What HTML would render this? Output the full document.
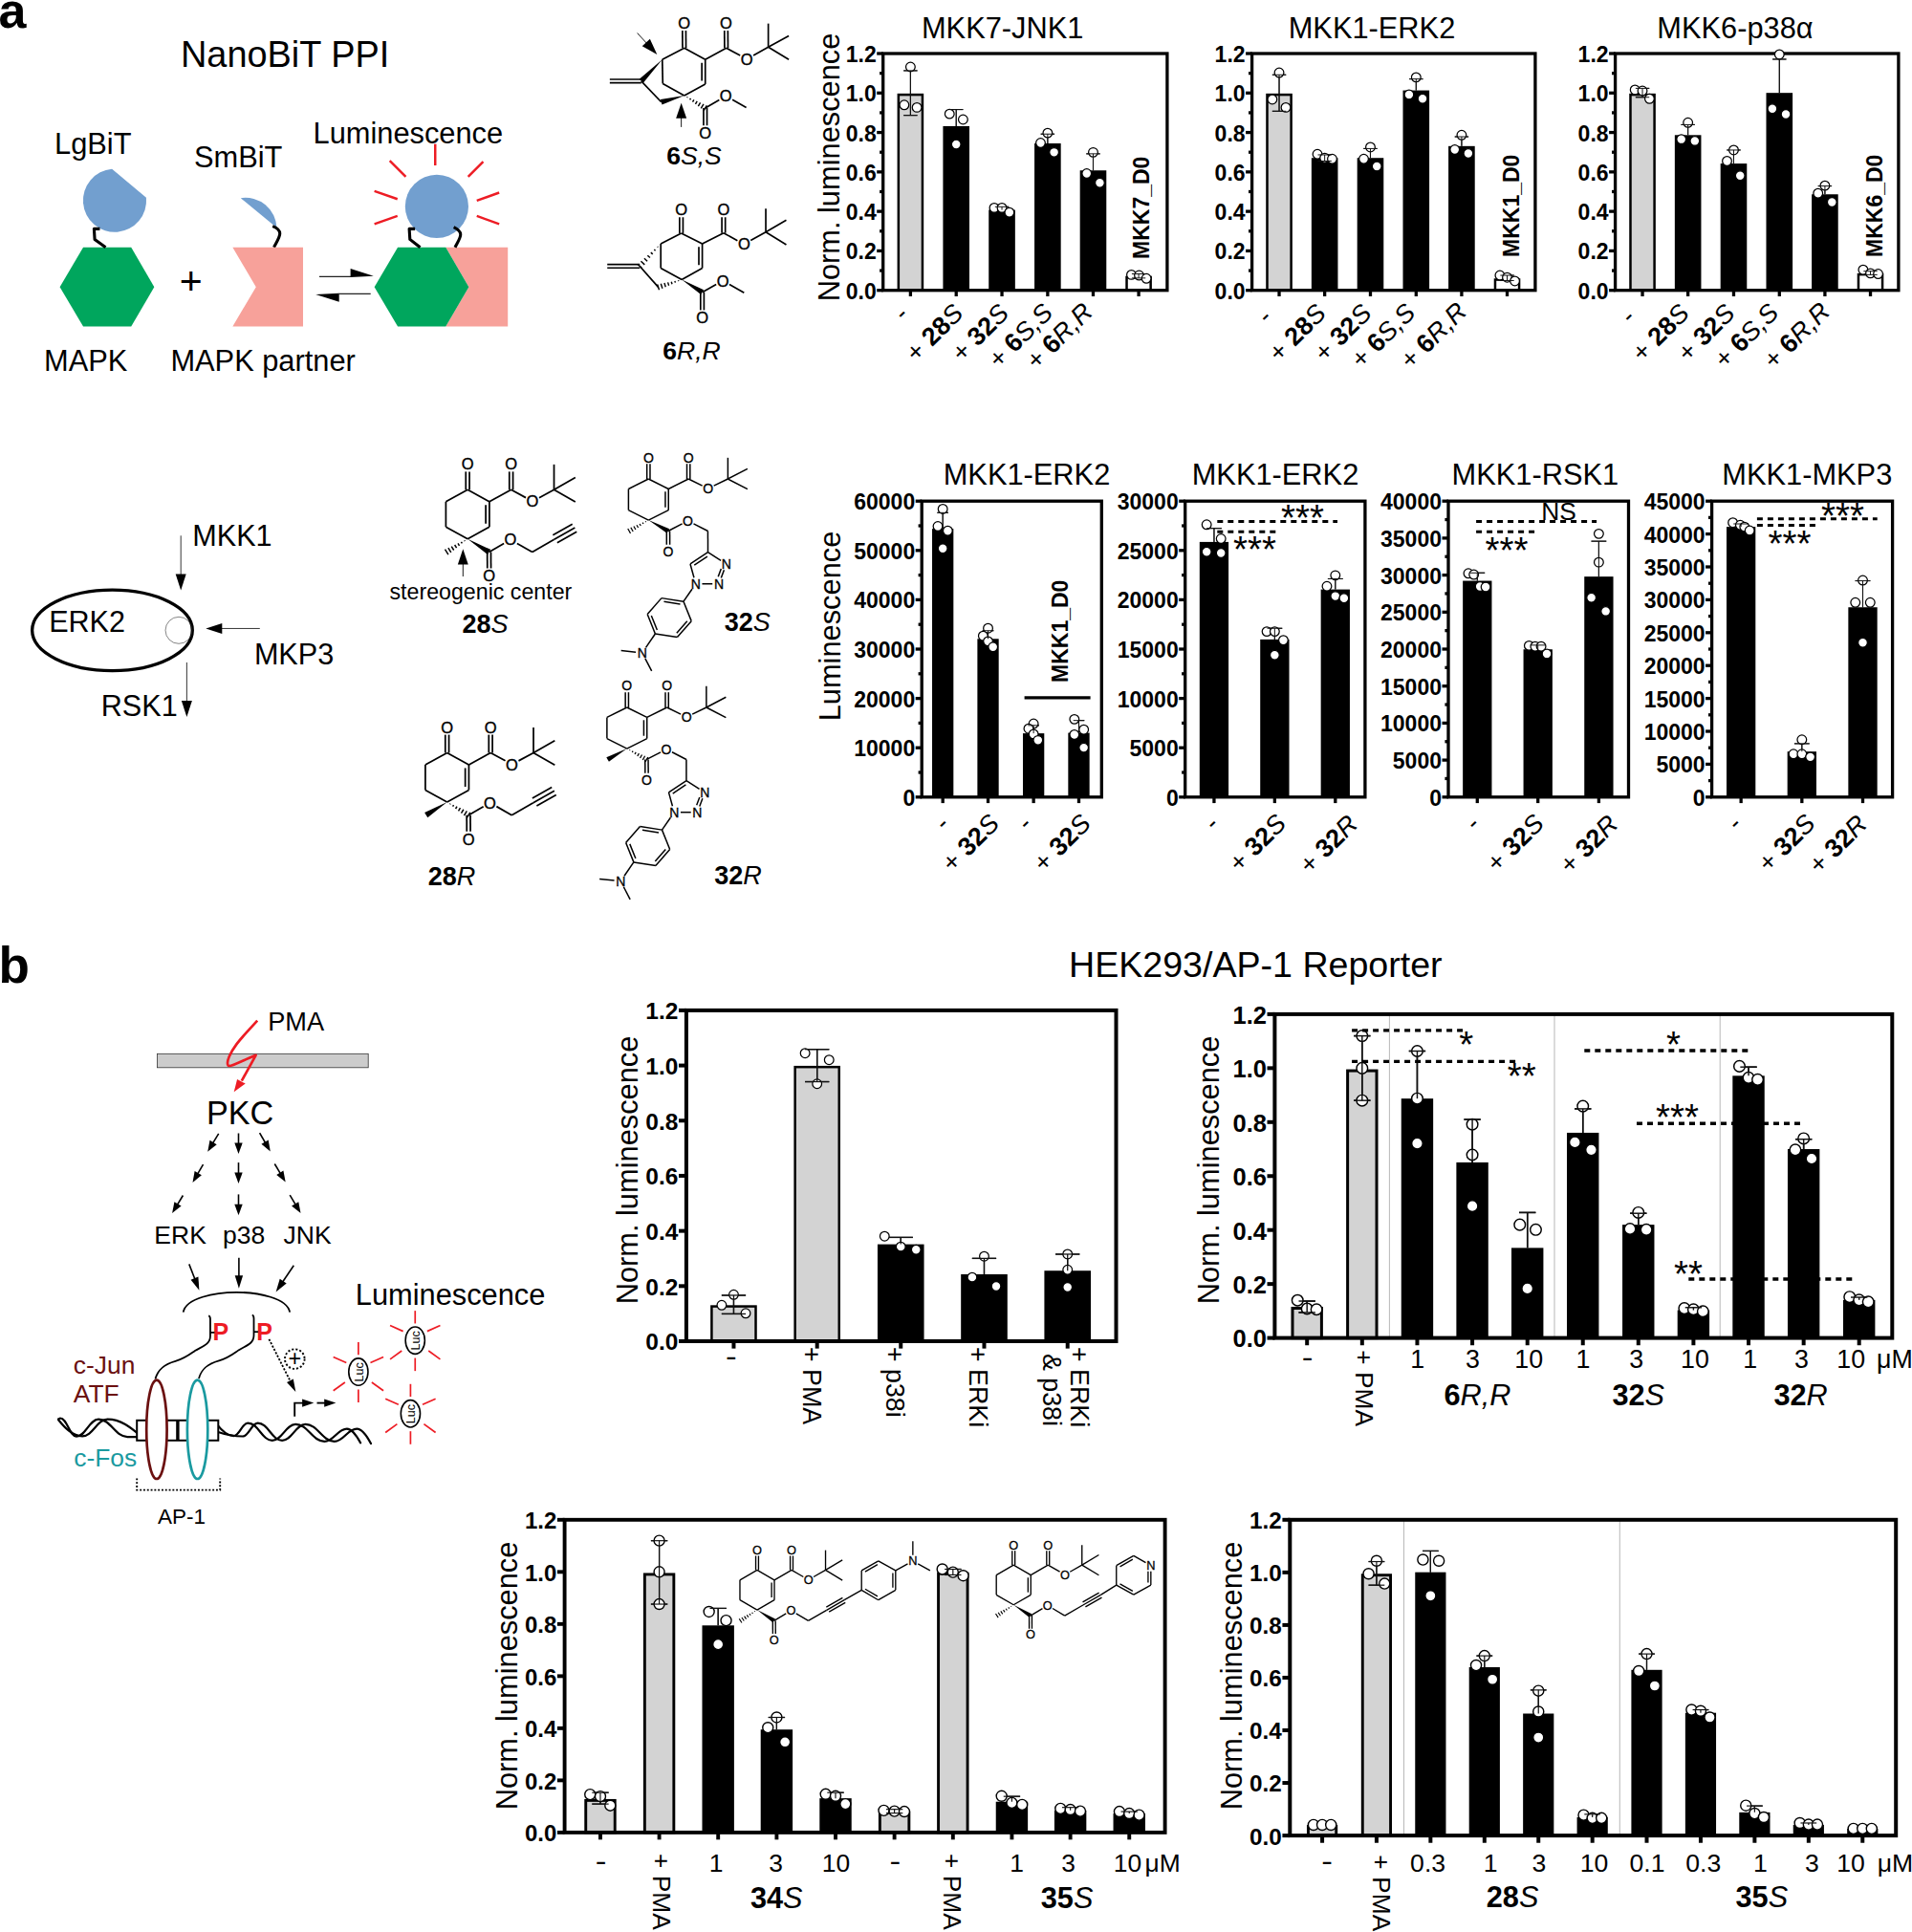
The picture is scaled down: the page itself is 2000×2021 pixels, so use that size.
<!DOCTYPE html>
<html lang="en"><head><meta charset="utf-8"><title>Figure</title>
<style>
html,body{margin:0;padding:0;background:#fff;}
svg{display:block;font-family:"Liberation Sans",sans-serif;}
</style></head><body>
<svg width="2000" height="2021" viewBox="0 0 2000 2021">
<rect width="2000" height="2021" fill="#fff"/>
<text x="-1.5" y="28.5" font-size="52" font-weight="bold">a</text>
<text x="189" y="70.3" font-size="37.9">NanoBiT PPI</text>
<text x="57" y="160.7" font-size="30.8">LgBiT</text>
<text x="203" y="174.7" font-size="30.8">SmBiT</text>
<text x="327.5" y="150" font-size="30.8">Luminescence</text>
<text x="46" y="388.3" font-size="30.8">MAPK</text>
<text x="178.4" y="388.3" font-size="30.8">MAPK partner</text>
<text x="199.8" y="307.8" font-size="41" text-anchor="middle">+</text>
<polygon points="62.59,300.25 87.03,258.74 137.24,258.74 161.34,300.25 137.24,341.42 87.03,341.42" fill="#00a65d"/>
<path d="M152.97 206.86 A33.1 33.1 0 1 1 117.15 176.74 Z" fill="#729fcf" stroke="none" stroke-width="0"/>
<path d="M104.44 239.33 L98.41 239.33 L99.08 250.38 L110.46 258.74" fill="none" stroke="#000" stroke-width="3.1" stroke-linejoin="round"/>
<path d="M251.8 207.2 A32.8 32.8 0 0 1 289.5 238.3 Z" fill="#729fcf" stroke="none" stroke-width="0"/>
<path d="M285.19 236.65 C297.91 241.67 291.88 248.37 286.53 258.74" fill="none" stroke="#000" stroke-width="3.1"/>
<polygon points="243.35,258.74 316.99,258.74 316.99,341.42 243.35,341.42 267.78,300.25" fill="#f7a19a"/>
<line x1="334" y1="289.3" x2="367" y2="289.3" stroke="#222" stroke-width="1.2"/>
<polygon points="366.6,280.9 390.8,288.8 366.6,289.9" fill="#000"/>
<line x1="387.7" y1="307.4" x2="354.4" y2="307.4" stroke="#222" stroke-width="1.2"/>
<polygon points="354.7,315.8 330.2,308.1 354.7,306.8" fill="#000"/>
<polygon points="466.28,258.74 531.21,258.74 531.21,341.42 466.28,341.42 490.38,300.25" fill="#f7a19a"/>
<polygon points="391.63,300.25 416.07,258.74 466.28,258.74 490.38,300.25 466.28,341.42 416.07,341.42" fill="#00a65d"/>
<circle cx="456.9" cy="215.9" r="33.1" fill="#729fcf"/>
<path d="M434.14 239.33 L428.12 239.33 L428.79 250.38 L439.5 258.74" fill="none" stroke="#000" stroke-width="3.1" stroke-linejoin="round"/>
<path d="M474.64 237.66 C487.03 243.68 480.33 249.37 475.98 258.74" fill="none" stroke="#000" stroke-width="3.1"/>
<line x1="455.23" y1="150.63" x2="455.23" y2="173.05" stroke="#ed1c24" stroke-width="2.5"/>
<line x1="407.7" y1="168.03" x2="424.44" y2="184.77" stroke="#ed1c24" stroke-width="2.5"/>
<line x1="505.44" y1="169.04" x2="489.71" y2="184.77" stroke="#ed1c24" stroke-width="2.5"/>
<line x1="391.63" y1="199.83" x2="415.73" y2="208.2" stroke="#ed1c24" stroke-width="2.5"/>
<line x1="522.18" y1="201.51" x2="498.74" y2="209.87" stroke="#ed1c24" stroke-width="2.5"/>
<line x1="391.63" y1="234.31" x2="415.73" y2="225.94" stroke="#ed1c24" stroke-width="2.5"/>
<line x1="522.18" y1="234.31" x2="498.74" y2="225.94" stroke="#ed1c24" stroke-width="2.5"/>
<line x1="717.57" y1="50.26" x2="717.43" y2="32.03" stroke="#000" stroke-width="1.7"/>
<line x1="713.97" y1="50.29" x2="713.83" y2="32.06" stroke="#000" stroke-width="1.7"/>
<line x1="715.77" y1="50.27" x2="692.76" y2="62.3" stroke="#000" stroke-width="1.7"/>
<line x1="715.77" y1="50.27" x2="737.74" y2="62.3" stroke="#000" stroke-width="1.7"/>
<line x1="737.74" y1="62.3" x2="737.74" y2="87.93" stroke="#000" stroke-width="1.7"/>
<line x1="734.14" y1="65.63" x2="734.14" y2="84.6" stroke="#000" stroke-width="1.7"/>
<line x1="737.74" y1="87.93" x2="715.77" y2="99.96" stroke="#000" stroke-width="1.7"/>
<line x1="715.77" y1="99.96" x2="693.28" y2="87.41" stroke="#000" stroke-width="1.7"/>
<line x1="693.28" y1="87.41" x2="692.76" y2="62.3" stroke="#000" stroke-width="1.7"/>
<line x1="670.79" y1="82.99" x2="637.85" y2="82.99" stroke="#000" stroke-width="1.7"/>
<line x1="670.79" y1="86.59" x2="637.85" y2="86.59" stroke="#000" stroke-width="1.7"/>
<line x1="670.79" y1="84.79" x2="691.72" y2="106.76" stroke="#000" stroke-width="1.7"/>
<line x1="737.74" y1="62.3" x2="759.71" y2="50.27" stroke="#000" stroke-width="1.7"/>
<line x1="761.51" y1="50.26" x2="761.36" y2="32.03" stroke="#000" stroke-width="1.7"/>
<line x1="757.91" y1="50.29" x2="757.76" y2="32.06" stroke="#000" stroke-width="1.7"/>
<line x1="759.71" y1="50.27" x2="774.17" y2="58.03" stroke="#000" stroke-width="1.7"/>
<line x1="788.07" y1="57.92" x2="803.64" y2="49.23" stroke="#000" stroke-width="1.7"/>
<line x1="803.64" y1="49.23" x2="803.64" y2="24.64" stroke="#000" stroke-width="1.7"/>
<line x1="803.64" y1="49.23" x2="825.08" y2="37.41" stroke="#000" stroke-width="1.7"/>
<line x1="803.64" y1="49.23" x2="825.08" y2="62.3" stroke="#000" stroke-width="1.7"/>
<line x1="735.94" y1="113.03" x2="735.94" y2="131.26" stroke="#000" stroke-width="1.7"/>
<line x1="739.54" y1="113.03" x2="739.54" y2="131.26" stroke="#000" stroke-width="1.7"/>
<line x1="737.74" y1="113.03" x2="752.35" y2="104.48" stroke="#000" stroke-width="1.7"/>
<line x1="766.09" y1="104.36" x2="780.63" y2="112.51" stroke="#000" stroke-width="1.7"/>
<polygon points="692.76,62.3 668.73,82.78 672.86,86.8" fill="#000"/>
<polygon points="715.77,99.96 690.93,103.99 692.5,109.53" fill="#000"/>
<line x1="718.69" y1="102.2" x2="719.14" y2="101.45" stroke="#000" stroke-width="1.44"/>
<line x1="721.6" y1="104.45" x2="722.5" y2="102.94" stroke="#000" stroke-width="1.44"/>
<line x1="724.52" y1="106.69" x2="725.86" y2="104.43" stroke="#000" stroke-width="1.44"/>
<line x1="727.43" y1="108.93" x2="729.22" y2="105.93" stroke="#000" stroke-width="1.44"/>
<line x1="730.35" y1="111.18" x2="732.58" y2="107.42" stroke="#000" stroke-width="1.44"/>
<line x1="733.26" y1="113.42" x2="735.94" y2="108.91" stroke="#000" stroke-width="1.44"/>
<line x1="736.18" y1="115.66" x2="739.31" y2="110.4" stroke="#000" stroke-width="1.44"/>
<text x="715.56" y="30.06" font-size="16.5" text-anchor="middle" stroke="#000" stroke-width="0.36">O</text>
<text x="759.5" y="30.06" font-size="16.5" text-anchor="middle" stroke="#000" stroke-width="0.36">O</text>
<text x="781.15" y="67.72" font-size="16.5" text-anchor="middle" stroke="#000" stroke-width="0.36">O</text>
<text x="737.74" y="145.12" font-size="16.5" text-anchor="middle" stroke="#000" stroke-width="0.36">O</text>
<text x="759.18" y="106.42" font-size="16.5" text-anchor="middle" stroke="#000" stroke-width="0.36">O</text>
<line x1="666.61" y1="34.58" x2="676.48" y2="45.3" stroke="#000" stroke-width="0.9"/>
<polygon points="687.32,57.07 671.76,48.29 679.85,40.84" fill="#000"/>
<line x1="712.64" y1="132.91" x2="712.64" y2="122.8" stroke="#000" stroke-width="0.9"/>
<polygon points="712.64,107.8 718.14,123.8 707.14,123.8" fill="#000"/>
<text x="726" y="171.5" font-size="26.5" text-anchor="middle"><tspan font-weight="bold">6</tspan><tspan font-style="italic">S,S</tspan></text>
<line x1="714.44" y1="243.93" x2="714.44" y2="227.27" stroke="#000" stroke-width="1.7"/>
<line x1="710.84" y1="243.93" x2="710.84" y2="227.27" stroke="#000" stroke-width="1.7"/>
<line x1="712.64" y1="243.93" x2="691.19" y2="254.92" stroke="#000" stroke-width="1.7"/>
<line x1="712.64" y1="243.93" x2="734.6" y2="254.92" stroke="#000" stroke-width="1.7"/>
<line x1="734.6" y1="254.92" x2="734.6" y2="280.54" stroke="#000" stroke-width="1.7"/>
<line x1="731" y1="258.25" x2="731" y2="277.21" stroke="#000" stroke-width="1.7"/>
<line x1="734.6" y1="280.54" x2="713.16" y2="292.57" stroke="#000" stroke-width="1.7"/>
<line x1="713.16" y1="292.57" x2="691.19" y2="280.54" stroke="#000" stroke-width="1.7"/>
<line x1="691.19" y1="280.54" x2="691.19" y2="254.92" stroke="#000" stroke-width="1.7"/>
<line x1="669.23" y1="276.65" x2="635.23" y2="276.65" stroke="#000" stroke-width="1.7"/>
<line x1="669.23" y1="280.25" x2="635.23" y2="280.25" stroke="#000" stroke-width="1.7"/>
<line x1="669.23" y1="278.45" x2="688.58" y2="300.42" stroke="#000" stroke-width="1.7"/>
<line x1="734.6" y1="254.92" x2="756.88" y2="243.72" stroke="#000" stroke-width="1.7"/>
<line x1="758.68" y1="243.72" x2="758.68" y2="227.27" stroke="#000" stroke-width="1.7"/>
<line x1="755.08" y1="243.72" x2="755.08" y2="227.27" stroke="#000" stroke-width="1.7"/>
<line x1="756.88" y1="243.72" x2="771.38" y2="251.64" stroke="#000" stroke-width="1.7"/>
<line x1="785.23" y1="251.56" x2="801.03" y2="242.68" stroke="#000" stroke-width="1.7"/>
<line x1="801.03" y1="242.68" x2="801.03" y2="218.31" stroke="#000" stroke-width="1.7"/>
<line x1="801.03" y1="242.68" x2="822.47" y2="230.33" stroke="#000" stroke-width="1.7"/>
<line x1="801.03" y1="242.68" x2="822.47" y2="255.96" stroke="#000" stroke-width="1.7"/>
<line x1="732.8" y1="305.65" x2="732.8" y2="324.4" stroke="#000" stroke-width="1.7"/>
<line x1="736.4" y1="305.65" x2="736.4" y2="324.4" stroke="#000" stroke-width="1.7"/>
<line x1="734.6" y1="305.65" x2="749.14" y2="297.49" stroke="#000" stroke-width="1.7"/>
<line x1="762.95" y1="297.51" x2="778.33" y2="306.17" stroke="#000" stroke-width="1.7"/>
<line x1="687.73" y1="257.98" x2="688.37" y2="258.58" stroke="#000" stroke-width="1.44"/>
<line x1="684.28" y1="261.04" x2="685.56" y2="262.24" stroke="#000" stroke-width="1.44"/>
<line x1="680.82" y1="264.11" x2="682.74" y2="265.9" stroke="#000" stroke-width="1.44"/>
<line x1="677.36" y1="267.17" x2="679.92" y2="269.56" stroke="#000" stroke-width="1.44"/>
<line x1="673.9" y1="270.24" x2="677.1" y2="273.22" stroke="#000" stroke-width="1.44"/>
<line x1="670.45" y1="273.3" x2="674.28" y2="276.88" stroke="#000" stroke-width="1.44"/>
<line x1="666.99" y1="276.36" x2="671.46" y2="280.54" stroke="#000" stroke-width="1.44"/>
<line x1="709.51" y1="293.28" x2="709.78" y2="294.11" stroke="#000" stroke-width="1.44"/>
<line x1="705.87" y1="293.98" x2="706.4" y2="295.65" stroke="#000" stroke-width="1.44"/>
<line x1="702.23" y1="294.69" x2="703.02" y2="297.18" stroke="#000" stroke-width="1.44"/>
<line x1="698.58" y1="295.39" x2="699.64" y2="298.72" stroke="#000" stroke-width="1.44"/>
<line x1="694.94" y1="296.09" x2="696.27" y2="300.26" stroke="#000" stroke-width="1.44"/>
<line x1="691.29" y1="296.8" x2="692.89" y2="301.8" stroke="#000" stroke-width="1.44"/>
<line x1="687.65" y1="297.5" x2="689.51" y2="303.33" stroke="#000" stroke-width="1.44"/>
<polygon points="713.16,292.57 733.1,308.11 736.1,303.19" fill="#000"/>
<text x="712.64" y="225.29" font-size="16.5" text-anchor="middle" stroke="#000" stroke-width="0.36">O</text>
<text x="756.88" y="225.29" font-size="16.5" text-anchor="middle" stroke="#000" stroke-width="0.36">O</text>
<text x="778.33" y="261.38" font-size="16.5" text-anchor="middle" stroke="#000" stroke-width="0.36">O</text>
<text x="734.6" y="338.26" font-size="16.5" text-anchor="middle" stroke="#000" stroke-width="0.36">O</text>
<text x="756.05" y="299.56" font-size="16.5" text-anchor="middle" stroke="#000" stroke-width="0.36">O</text>
<text x="723.5" y="375.5" font-size="26.5" text-anchor="middle"><tspan font-weight="bold">6</tspan><tspan font-style="italic">R,R</tspan></text>
<rect x="939.84" y="99.08" width="25.1" height="204.62" fill="#d3d3d3" stroke="#000" stroke-width="2.5"/>
<rect x="986.42" y="131.96" width="27.6" height="171.74" fill="#000"/>
<rect x="1034.24" y="219.57" width="27.6" height="84.13" fill="#000"/>
<rect x="1082.07" y="150" width="27.6" height="153.7" fill="#000"/>
<rect x="1129.68" y="178.26" width="27.6" height="125.44" fill="#000"/>
<rect x="1178.54" y="289.95" width="25.1" height="13.75" fill="#fff" stroke="#000" stroke-width="2.5"/>
<rect x="923.7" y="56" width="297.2" height="247.7" fill="none" stroke="#000" stroke-width="3.3"/>
<line x1="917.2" y1="303.7" x2="923.7" y2="303.7" stroke="#000" stroke-width="3.3"/>
<text x="916.7" y="312.63" font-size="23" font-weight="bold" text-anchor="end">0.0</text>
<line x1="920.1" y1="283.06" x2="923.7" y2="283.06" stroke="#000" stroke-width="3.3"/>
<line x1="917.2" y1="262.42" x2="923.7" y2="262.42" stroke="#000" stroke-width="3.3"/>
<text x="916.7" y="271.35" font-size="23" font-weight="bold" text-anchor="end">0.2</text>
<line x1="920.1" y1="241.77" x2="923.7" y2="241.77" stroke="#000" stroke-width="3.3"/>
<line x1="917.2" y1="221.13" x2="923.7" y2="221.13" stroke="#000" stroke-width="3.3"/>
<text x="916.7" y="230.07" font-size="23" font-weight="bold" text-anchor="end">0.4</text>
<line x1="920.1" y1="200.49" x2="923.7" y2="200.49" stroke="#000" stroke-width="3.3"/>
<line x1="917.2" y1="179.85" x2="923.7" y2="179.85" stroke="#000" stroke-width="3.3"/>
<text x="916.7" y="188.78" font-size="23" font-weight="bold" text-anchor="end">0.6</text>
<line x1="920.1" y1="159.21" x2="923.7" y2="159.21" stroke="#000" stroke-width="3.3"/>
<line x1="917.2" y1="138.57" x2="923.7" y2="138.57" stroke="#000" stroke-width="3.3"/>
<text x="916.7" y="147.5" font-size="23" font-weight="bold" text-anchor="end">0.8</text>
<line x1="920.1" y1="117.92" x2="923.7" y2="117.92" stroke="#000" stroke-width="3.3"/>
<line x1="917.2" y1="97.28" x2="923.7" y2="97.28" stroke="#000" stroke-width="3.3"/>
<text x="916.7" y="106.22" font-size="23" font-weight="bold" text-anchor="end">1.0</text>
<line x1="920.1" y1="76.64" x2="923.7" y2="76.64" stroke="#000" stroke-width="3.3"/>
<line x1="917.2" y1="56" x2="923.7" y2="56" stroke="#000" stroke-width="3.3"/>
<text x="916.7" y="64.93" font-size="23" font-weight="bold" text-anchor="end">1.2</text>
<line x1="952.39" y1="303.7" x2="952.39" y2="310" stroke="#000" stroke-width="3.3"/>
<line x1="952.39" y1="73.91" x2="952.39" y2="120.65" stroke="#111" stroke-width="1.1"/>
<line x1="945.22" y1="73.91" x2="959.57" y2="73.91" stroke="#111" stroke-width="1.1"/>
<line x1="945.22" y1="120.65" x2="959.57" y2="120.65" stroke="#111" stroke-width="1.1"/>
<circle cx="952.39" cy="70" r="4.85" fill="#fff" stroke="#000" stroke-width="1.25"/>
<circle cx="945.87" cy="109.78" r="4.85" fill="#fff" stroke="#000" stroke-width="1.25"/>
<circle cx="959.13" cy="112.39" r="4.85" fill="#fff" stroke="#000" stroke-width="1.25"/>
<line x1="945.22" y1="73.91" x2="959.57" y2="73.91" stroke="#111" stroke-width="0.99"/>
<line x1="952.39" y1="73.91" x2="952.39" y2="120.65" stroke="#111" stroke-width="0.99"/>
<line x1="945.22" y1="120.65" x2="959.57" y2="120.65" stroke="#111" stroke-width="0.99"/>
<line x1="1000.22" y1="303.7" x2="1000.22" y2="310" stroke="#000" stroke-width="3.3"/>
<line x1="1000.22" y1="114.57" x2="1000.22" y2="131.96" stroke="#111" stroke-width="1.1"/>
<line x1="993.04" y1="114.57" x2="1007.39" y2="114.57" stroke="#111" stroke-width="1.1"/>
<circle cx="993.26" cy="119.13" r="4.85" fill="#fff" stroke="#000" stroke-width="1.25"/>
<circle cx="1007.39" cy="125" r="4.85" fill="#fff" stroke="#000" stroke-width="1.25"/>
<circle cx="1000.22" cy="151.09" r="4.85" fill="#fff" stroke="#000" stroke-width="1.25"/>
<line x1="993.04" y1="114.57" x2="1007.39" y2="114.57" stroke="#111" stroke-width="0.99"/>
<line x1="1000.22" y1="114.57" x2="1000.22" y2="131.96" stroke="#111" stroke-width="0.99"/>
<line x1="1048.04" y1="303.7" x2="1048.04" y2="310" stroke="#000" stroke-width="3.3"/>
<line x1="1048.04" y1="216.3" x2="1048.04" y2="219.57" stroke="#111" stroke-width="1.1"/>
<line x1="1040.87" y1="216.3" x2="1055.22" y2="216.3" stroke="#111" stroke-width="1.1"/>
<circle cx="1040" cy="217.39" r="4.85" fill="#fff" stroke="#000" stroke-width="1.25"/>
<circle cx="1048.04" cy="217.39" r="4.85" fill="#fff" stroke="#000" stroke-width="1.25"/>
<circle cx="1055.87" cy="222.17" r="4.85" fill="#fff" stroke="#000" stroke-width="1.25"/>
<line x1="1040.87" y1="216.3" x2="1055.22" y2="216.3" stroke="#111" stroke-width="0.99"/>
<line x1="1048.04" y1="216.3" x2="1048.04" y2="219.57" stroke="#111" stroke-width="0.99"/>
<line x1="1095.87" y1="303.7" x2="1095.87" y2="310" stroke="#000" stroke-width="3.3"/>
<line x1="1095.87" y1="140.22" x2="1095.87" y2="150" stroke="#111" stroke-width="1.1"/>
<line x1="1088.69" y1="140.22" x2="1103.05" y2="140.22" stroke="#111" stroke-width="1.1"/>
<circle cx="1095.87" cy="139.13" r="4.85" fill="#fff" stroke="#000" stroke-width="1.25"/>
<circle cx="1088.48" cy="149.57" r="4.85" fill="#fff" stroke="#000" stroke-width="1.25"/>
<circle cx="1102.61" cy="159.35" r="4.85" fill="#fff" stroke="#000" stroke-width="1.25"/>
<line x1="1088.69" y1="140.22" x2="1103.05" y2="140.22" stroke="#111" stroke-width="0.99"/>
<line x1="1095.87" y1="140.22" x2="1095.87" y2="150" stroke="#111" stroke-width="0.99"/>
<line x1="1143.48" y1="303.7" x2="1143.48" y2="310" stroke="#000" stroke-width="3.3"/>
<line x1="1143.48" y1="160.87" x2="1143.48" y2="178.26" stroke="#111" stroke-width="1.1"/>
<line x1="1136.3" y1="160.87" x2="1150.65" y2="160.87" stroke="#111" stroke-width="1.1"/>
<circle cx="1143.48" cy="159.35" r="4.85" fill="#fff" stroke="#000" stroke-width="1.25"/>
<circle cx="1136.74" cy="181.52" r="4.85" fill="#fff" stroke="#000" stroke-width="1.25"/>
<circle cx="1150.43" cy="191.3" r="4.85" fill="#fff" stroke="#000" stroke-width="1.25"/>
<line x1="1136.3" y1="160.87" x2="1150.65" y2="160.87" stroke="#111" stroke-width="0.99"/>
<line x1="1143.48" y1="160.87" x2="1143.48" y2="178.26" stroke="#111" stroke-width="0.99"/>
<line x1="1191.09" y1="303.7" x2="1191.09" y2="310" stroke="#000" stroke-width="3.3"/>
<line x1="1191.09" y1="286.52" x2="1191.09" y2="290.87" stroke="#111" stroke-width="1.1"/>
<line x1="1183.91" y1="286.52" x2="1198.26" y2="286.52" stroke="#111" stroke-width="1.1"/>
<line x1="1183.91" y1="290.87" x2="1198.26" y2="290.87" stroke="#111" stroke-width="1.1"/>
<circle cx="1183.48" cy="287.39" r="4.85" fill="#fff" stroke="#000" stroke-width="1.25"/>
<circle cx="1191.52" cy="288.04" r="4.85" fill="#fff" stroke="#000" stroke-width="1.25"/>
<circle cx="1199.13" cy="291.3" r="4.85" fill="#fff" stroke="#000" stroke-width="1.25"/>
<line x1="1183.91" y1="286.52" x2="1198.26" y2="286.52" stroke="#111" stroke-width="0.99"/>
<line x1="1191.09" y1="286.52" x2="1191.09" y2="290.87" stroke="#111" stroke-width="0.99"/>
<line x1="1183.91" y1="290.87" x2="1198.26" y2="290.87" stroke="#111" stroke-width="0.99"/>
<text x="1048.7" y="40.2" font-size="30.8" text-anchor="middle">MKK7-JNK1</text>
<text x="878" y="175" font-size="30.8" text-anchor="middle" transform="rotate(-90 878 175)">Norm. luminescence</text>
<text x="951.99" y="330.7" font-size="27" text-anchor="end" transform="rotate(-45 951.99 330.7)">-</text>
<text x="1009.02" y="329.3" font-size="27" text-anchor="end" transform="rotate(-45 1009.02 329.3)">+ <tspan font-weight="bold">28</tspan><tspan font-style="italic">S</tspan></text>
<text x="1056.84" y="329.3" font-size="27" text-anchor="end" transform="rotate(-45 1056.84 329.3)">+ <tspan font-weight="bold">32</tspan><tspan font-style="italic">S</tspan></text>
<text x="1102.77" y="328.7" font-size="27" text-anchor="end" transform="rotate(-45 1102.77 328.7)">+ <tspan font-weight="bold">6</tspan><tspan font-style="italic">S,S</tspan></text>
<text x="1144.48" y="327.9" font-size="27" text-anchor="end" transform="rotate(-45 1144.48 327.9)">+ <tspan font-weight="bold">6</tspan><tspan font-style="italic">R,R</tspan></text>
<text x="1201.5" y="271" font-size="23" font-weight="bold" transform="rotate(-90 1201.5 271)">MKK7_D0</text>
<rect x="1325.49" y="99.08" width="25.1" height="204.62" fill="#d3d3d3" stroke="#000" stroke-width="2.5"/>
<rect x="1371.85" y="165.22" width="27.6" height="138.48" fill="#000"/>
<rect x="1419.68" y="165.22" width="27.6" height="138.48" fill="#000"/>
<rect x="1467.5" y="94.57" width="27.6" height="209.13" fill="#000"/>
<rect x="1515.11" y="152.83" width="27.6" height="150.87" fill="#000"/>
<rect x="1563.97" y="292.55" width="25.1" height="11.15" fill="#fff" stroke="#000" stroke-width="2.5"/>
<rect x="1309.6" y="56" width="296.3" height="247.7" fill="none" stroke="#000" stroke-width="3.3"/>
<line x1="1303.1" y1="303.7" x2="1309.6" y2="303.7" stroke="#000" stroke-width="3.3"/>
<text x="1302.6" y="312.63" font-size="23" font-weight="bold" text-anchor="end">0.0</text>
<line x1="1306" y1="283.06" x2="1309.6" y2="283.06" stroke="#000" stroke-width="3.3"/>
<line x1="1303.1" y1="262.42" x2="1309.6" y2="262.42" stroke="#000" stroke-width="3.3"/>
<text x="1302.6" y="271.35" font-size="23" font-weight="bold" text-anchor="end">0.2</text>
<line x1="1306" y1="241.77" x2="1309.6" y2="241.77" stroke="#000" stroke-width="3.3"/>
<line x1="1303.1" y1="221.13" x2="1309.6" y2="221.13" stroke="#000" stroke-width="3.3"/>
<text x="1302.6" y="230.07" font-size="23" font-weight="bold" text-anchor="end">0.4</text>
<line x1="1306" y1="200.49" x2="1309.6" y2="200.49" stroke="#000" stroke-width="3.3"/>
<line x1="1303.1" y1="179.85" x2="1309.6" y2="179.85" stroke="#000" stroke-width="3.3"/>
<text x="1302.6" y="188.78" font-size="23" font-weight="bold" text-anchor="end">0.6</text>
<line x1="1306" y1="159.21" x2="1309.6" y2="159.21" stroke="#000" stroke-width="3.3"/>
<line x1="1303.1" y1="138.57" x2="1309.6" y2="138.57" stroke="#000" stroke-width="3.3"/>
<text x="1302.6" y="147.5" font-size="23" font-weight="bold" text-anchor="end">0.8</text>
<line x1="1306" y1="117.92" x2="1309.6" y2="117.92" stroke="#000" stroke-width="3.3"/>
<line x1="1303.1" y1="97.28" x2="1309.6" y2="97.28" stroke="#000" stroke-width="3.3"/>
<text x="1302.6" y="106.22" font-size="23" font-weight="bold" text-anchor="end">1.0</text>
<line x1="1306" y1="76.64" x2="1309.6" y2="76.64" stroke="#000" stroke-width="3.3"/>
<line x1="1303.1" y1="56" x2="1309.6" y2="56" stroke="#000" stroke-width="3.3"/>
<text x="1302.6" y="64.93" font-size="23" font-weight="bold" text-anchor="end">1.2</text>
<line x1="1338.04" y1="303.7" x2="1338.04" y2="310" stroke="#000" stroke-width="3.3"/>
<line x1="1338.04" y1="78.26" x2="1338.04" y2="116.3" stroke="#111" stroke-width="1.1"/>
<line x1="1330.87" y1="78.26" x2="1345.22" y2="78.26" stroke="#111" stroke-width="1.1"/>
<line x1="1330.87" y1="116.3" x2="1345.22" y2="116.3" stroke="#111" stroke-width="1.1"/>
<circle cx="1338.04" cy="76.09" r="4.85" fill="#fff" stroke="#000" stroke-width="1.25"/>
<circle cx="1330.87" cy="103.91" r="4.85" fill="#fff" stroke="#000" stroke-width="1.25"/>
<circle cx="1345" cy="112.39" r="4.85" fill="#fff" stroke="#000" stroke-width="1.25"/>
<line x1="1330.87" y1="78.26" x2="1345.22" y2="78.26" stroke="#111" stroke-width="0.99"/>
<line x1="1338.04" y1="78.26" x2="1338.04" y2="116.3" stroke="#111" stroke-width="0.99"/>
<line x1="1330.87" y1="116.3" x2="1345.22" y2="116.3" stroke="#111" stroke-width="0.99"/>
<line x1="1385.65" y1="303.7" x2="1385.65" y2="310" stroke="#000" stroke-width="3.3"/>
<line x1="1385.65" y1="161.96" x2="1385.65" y2="168.48" stroke="#111" stroke-width="1.1"/>
<line x1="1378.48" y1="161.96" x2="1392.83" y2="161.96" stroke="#111" stroke-width="1.1"/>
<line x1="1378.48" y1="168.48" x2="1392.83" y2="168.48" stroke="#111" stroke-width="1.1"/>
<circle cx="1378.04" cy="161.3" r="4.85" fill="#fff" stroke="#000" stroke-width="1.25"/>
<circle cx="1385.65" cy="165.22" r="4.85" fill="#fff" stroke="#000" stroke-width="1.25"/>
<circle cx="1393.48" cy="166.3" r="4.85" fill="#fff" stroke="#000" stroke-width="1.25"/>
<line x1="1378.48" y1="161.96" x2="1392.83" y2="161.96" stroke="#111" stroke-width="0.99"/>
<line x1="1385.65" y1="161.96" x2="1385.65" y2="168.48" stroke="#111" stroke-width="0.99"/>
<line x1="1378.48" y1="168.48" x2="1392.83" y2="168.48" stroke="#111" stroke-width="0.99"/>
<line x1="1433.48" y1="303.7" x2="1433.48" y2="310" stroke="#000" stroke-width="3.3"/>
<line x1="1433.48" y1="155.43" x2="1433.48" y2="165.22" stroke="#111" stroke-width="1.1"/>
<line x1="1426.3" y1="155.43" x2="1440.65" y2="155.43" stroke="#111" stroke-width="1.1"/>
<circle cx="1433.48" cy="153.91" r="4.85" fill="#fff" stroke="#000" stroke-width="1.25"/>
<circle cx="1426.52" cy="166.3" r="4.85" fill="#fff" stroke="#000" stroke-width="1.25"/>
<circle cx="1440.22" cy="173.91" r="4.85" fill="#fff" stroke="#000" stroke-width="1.25"/>
<line x1="1426.3" y1="155.43" x2="1440.65" y2="155.43" stroke="#111" stroke-width="0.99"/>
<line x1="1433.48" y1="155.43" x2="1433.48" y2="165.22" stroke="#111" stroke-width="0.99"/>
<line x1="1481.3" y1="303.7" x2="1481.3" y2="310" stroke="#000" stroke-width="3.3"/>
<line x1="1481.3" y1="82.61" x2="1481.3" y2="94.57" stroke="#111" stroke-width="1.1"/>
<line x1="1474.13" y1="82.61" x2="1488.48" y2="82.61" stroke="#111" stroke-width="1.1"/>
<circle cx="1481.3" cy="80.87" r="4.85" fill="#fff" stroke="#000" stroke-width="1.25"/>
<circle cx="1473.91" cy="98.91" r="4.85" fill="#fff" stroke="#000" stroke-width="1.25"/>
<circle cx="1488.04" cy="103.26" r="4.85" fill="#fff" stroke="#000" stroke-width="1.25"/>
<line x1="1474.13" y1="82.61" x2="1488.48" y2="82.61" stroke="#111" stroke-width="0.99"/>
<line x1="1481.3" y1="82.61" x2="1481.3" y2="94.57" stroke="#111" stroke-width="0.99"/>
<line x1="1528.91" y1="303.7" x2="1528.91" y2="310" stroke="#000" stroke-width="3.3"/>
<line x1="1528.91" y1="143.04" x2="1528.91" y2="152.83" stroke="#111" stroke-width="1.1"/>
<line x1="1521.74" y1="143.04" x2="1536.09" y2="143.04" stroke="#111" stroke-width="1.1"/>
<circle cx="1528.91" cy="141.3" r="4.85" fill="#fff" stroke="#000" stroke-width="1.25"/>
<circle cx="1521.74" cy="156.52" r="4.85" fill="#fff" stroke="#000" stroke-width="1.25"/>
<circle cx="1535.87" cy="160.43" r="4.85" fill="#fff" stroke="#000" stroke-width="1.25"/>
<line x1="1521.74" y1="143.04" x2="1536.09" y2="143.04" stroke="#111" stroke-width="0.99"/>
<line x1="1528.91" y1="143.04" x2="1528.91" y2="152.83" stroke="#111" stroke-width="0.99"/>
<line x1="1576.52" y1="303.7" x2="1576.52" y2="310" stroke="#000" stroke-width="3.3"/>
<line x1="1576.52" y1="288.04" x2="1576.52" y2="293.48" stroke="#111" stroke-width="1.1"/>
<line x1="1569.35" y1="288.04" x2="1583.7" y2="288.04" stroke="#111" stroke-width="1.1"/>
<line x1="1569.35" y1="293.48" x2="1583.7" y2="293.48" stroke="#111" stroke-width="1.1"/>
<circle cx="1568.91" cy="288.04" r="4.85" fill="#fff" stroke="#000" stroke-width="1.25"/>
<circle cx="1576.52" cy="290.22" r="4.85" fill="#fff" stroke="#000" stroke-width="1.25"/>
<circle cx="1584.57" cy="293.91" r="4.85" fill="#fff" stroke="#000" stroke-width="1.25"/>
<line x1="1569.35" y1="288.04" x2="1583.7" y2="288.04" stroke="#111" stroke-width="0.99"/>
<line x1="1576.52" y1="288.04" x2="1576.52" y2="293.48" stroke="#111" stroke-width="0.99"/>
<line x1="1569.35" y1="293.48" x2="1583.7" y2="293.48" stroke="#111" stroke-width="0.99"/>
<text x="1435" y="40.2" font-size="30.8" text-anchor="middle">MKK1-ERK2</text>
<text x="1332.24" y="333.7" font-size="27" text-anchor="end" transform="rotate(-45 1332.24 333.7)">-</text>
<text x="1388.55" y="329.3" font-size="27" text-anchor="end" transform="rotate(-45 1388.55 329.3)">+ <tspan font-weight="bold">28</tspan><tspan font-style="italic">S</tspan></text>
<text x="1436.18" y="329.3" font-size="27" text-anchor="end" transform="rotate(-45 1436.18 329.3)">+ <tspan font-weight="bold">32</tspan><tspan font-style="italic">S</tspan></text>
<text x="1482.1" y="328.7" font-size="27" text-anchor="end" transform="rotate(-45 1482.1 328.7)">+ <tspan font-weight="bold">6</tspan><tspan font-style="italic">S,S</tspan></text>
<text x="1535.81" y="327.4" font-size="27" text-anchor="end" transform="rotate(-45 1535.81 327.4)">+ <tspan font-weight="bold">6</tspan><tspan font-style="italic">R,R</tspan></text>
<text x="1588.5" y="269" font-size="23" font-weight="bold" transform="rotate(-90 1588.5 269)">MKK1_D0</text>
<rect x="1705.49" y="99.08" width="25.1" height="204.62" fill="#d3d3d3" stroke="#000" stroke-width="2.5"/>
<rect x="1751.85" y="141.3" width="27.6" height="162.4" fill="#000"/>
<rect x="1799.68" y="171.09" width="27.6" height="132.61" fill="#000"/>
<rect x="1847.5" y="97.17" width="27.6" height="206.53" fill="#000"/>
<rect x="1895.11" y="203.26" width="27.6" height="100.44" fill="#000"/>
<rect x="1943.97" y="287.12" width="25.1" height="16.58" fill="#fff" stroke="#000" stroke-width="2.5"/>
<rect x="1689.6" y="56" width="296.3" height="247.7" fill="none" stroke="#000" stroke-width="3.3"/>
<line x1="1683.1" y1="303.7" x2="1689.6" y2="303.7" stroke="#000" stroke-width="3.3"/>
<text x="1682.6" y="312.63" font-size="23" font-weight="bold" text-anchor="end">0.0</text>
<line x1="1686" y1="283.06" x2="1689.6" y2="283.06" stroke="#000" stroke-width="3.3"/>
<line x1="1683.1" y1="262.42" x2="1689.6" y2="262.42" stroke="#000" stroke-width="3.3"/>
<text x="1682.6" y="271.35" font-size="23" font-weight="bold" text-anchor="end">0.2</text>
<line x1="1686" y1="241.77" x2="1689.6" y2="241.77" stroke="#000" stroke-width="3.3"/>
<line x1="1683.1" y1="221.13" x2="1689.6" y2="221.13" stroke="#000" stroke-width="3.3"/>
<text x="1682.6" y="230.07" font-size="23" font-weight="bold" text-anchor="end">0.4</text>
<line x1="1686" y1="200.49" x2="1689.6" y2="200.49" stroke="#000" stroke-width="3.3"/>
<line x1="1683.1" y1="179.85" x2="1689.6" y2="179.85" stroke="#000" stroke-width="3.3"/>
<text x="1682.6" y="188.78" font-size="23" font-weight="bold" text-anchor="end">0.6</text>
<line x1="1686" y1="159.21" x2="1689.6" y2="159.21" stroke="#000" stroke-width="3.3"/>
<line x1="1683.1" y1="138.57" x2="1689.6" y2="138.57" stroke="#000" stroke-width="3.3"/>
<text x="1682.6" y="147.5" font-size="23" font-weight="bold" text-anchor="end">0.8</text>
<line x1="1686" y1="117.92" x2="1689.6" y2="117.92" stroke="#000" stroke-width="3.3"/>
<line x1="1683.1" y1="97.28" x2="1689.6" y2="97.28" stroke="#000" stroke-width="3.3"/>
<text x="1682.6" y="106.22" font-size="23" font-weight="bold" text-anchor="end">1.0</text>
<line x1="1686" y1="76.64" x2="1689.6" y2="76.64" stroke="#000" stroke-width="3.3"/>
<line x1="1683.1" y1="56" x2="1689.6" y2="56" stroke="#000" stroke-width="3.3"/>
<text x="1682.6" y="64.93" font-size="23" font-weight="bold" text-anchor="end">1.2</text>
<line x1="1718.04" y1="303.7" x2="1718.04" y2="310" stroke="#000" stroke-width="3.3"/>
<line x1="1718.04" y1="92.39" x2="1718.04" y2="101.74" stroke="#111" stroke-width="1.1"/>
<line x1="1710.87" y1="92.39" x2="1725.22" y2="92.39" stroke="#111" stroke-width="1.1"/>
<line x1="1710.87" y1="101.74" x2="1725.22" y2="101.74" stroke="#111" stroke-width="1.1"/>
<circle cx="1710.22" cy="93.91" r="4.85" fill="#fff" stroke="#000" stroke-width="1.25"/>
<circle cx="1718.04" cy="95" r="4.85" fill="#fff" stroke="#000" stroke-width="1.25"/>
<circle cx="1725.43" cy="103.26" r="4.85" fill="#fff" stroke="#000" stroke-width="1.25"/>
<line x1="1710.87" y1="92.39" x2="1725.22" y2="92.39" stroke="#111" stroke-width="0.99"/>
<line x1="1718.04" y1="92.39" x2="1718.04" y2="101.74" stroke="#111" stroke-width="0.99"/>
<line x1="1710.87" y1="101.74" x2="1725.22" y2="101.74" stroke="#111" stroke-width="0.99"/>
<line x1="1765.65" y1="303.7" x2="1765.65" y2="310" stroke="#000" stroke-width="3.3"/>
<line x1="1765.65" y1="130.43" x2="1765.65" y2="141.3" stroke="#111" stroke-width="1.1"/>
<line x1="1758.48" y1="130.43" x2="1772.83" y2="130.43" stroke="#111" stroke-width="1.1"/>
<circle cx="1765.65" cy="128.26" r="4.85" fill="#fff" stroke="#000" stroke-width="1.25"/>
<circle cx="1758.7" cy="145.65" r="4.85" fill="#fff" stroke="#000" stroke-width="1.25"/>
<circle cx="1772.83" cy="147.39" r="4.85" fill="#fff" stroke="#000" stroke-width="1.25"/>
<line x1="1758.48" y1="130.43" x2="1772.83" y2="130.43" stroke="#111" stroke-width="0.99"/>
<line x1="1765.65" y1="130.43" x2="1765.65" y2="141.3" stroke="#111" stroke-width="0.99"/>
<line x1="1813.48" y1="303.7" x2="1813.48" y2="310" stroke="#000" stroke-width="3.3"/>
<line x1="1813.48" y1="156.96" x2="1813.48" y2="171.09" stroke="#111" stroke-width="1.1"/>
<line x1="1806.3" y1="156.96" x2="1820.65" y2="156.96" stroke="#111" stroke-width="1.1"/>
<circle cx="1813.48" cy="156.96" r="4.85" fill="#fff" stroke="#000" stroke-width="1.25"/>
<circle cx="1806.52" cy="168.48" r="4.85" fill="#fff" stroke="#000" stroke-width="1.25"/>
<circle cx="1820.22" cy="183.7" r="4.85" fill="#fff" stroke="#000" stroke-width="1.25"/>
<line x1="1806.3" y1="156.96" x2="1820.65" y2="156.96" stroke="#111" stroke-width="0.99"/>
<line x1="1813.48" y1="156.96" x2="1813.48" y2="171.09" stroke="#111" stroke-width="0.99"/>
<line x1="1861.3" y1="303.7" x2="1861.3" y2="310" stroke="#000" stroke-width="3.3"/>
<line x1="1861.3" y1="61.96" x2="1861.3" y2="97.17" stroke="#111" stroke-width="1.1"/>
<line x1="1854.13" y1="61.96" x2="1868.48" y2="61.96" stroke="#111" stroke-width="1.1"/>
<circle cx="1861.3" cy="56.96" r="4.85" fill="#fff" stroke="#000" stroke-width="1.25"/>
<circle cx="1853.91" cy="113.7" r="4.85" fill="#fff" stroke="#000" stroke-width="1.25"/>
<circle cx="1868.04" cy="119.57" r="4.85" fill="#fff" stroke="#000" stroke-width="1.25"/>
<line x1="1854.13" y1="61.96" x2="1868.48" y2="61.96" stroke="#111" stroke-width="0.99"/>
<line x1="1861.3" y1="61.96" x2="1861.3" y2="97.17" stroke="#111" stroke-width="0.99"/>
<line x1="1908.91" y1="303.7" x2="1908.91" y2="310" stroke="#000" stroke-width="3.3"/>
<line x1="1908.91" y1="194.57" x2="1908.91" y2="203.26" stroke="#111" stroke-width="1.1"/>
<line x1="1901.74" y1="194.57" x2="1916.09" y2="194.57" stroke="#111" stroke-width="1.1"/>
<circle cx="1908.91" cy="194.13" r="4.85" fill="#fff" stroke="#000" stroke-width="1.25"/>
<circle cx="1901.74" cy="202.17" r="4.85" fill="#fff" stroke="#000" stroke-width="1.25"/>
<circle cx="1916.3" cy="211.52" r="4.85" fill="#fff" stroke="#000" stroke-width="1.25"/>
<line x1="1901.74" y1="194.57" x2="1916.09" y2="194.57" stroke="#111" stroke-width="0.99"/>
<line x1="1908.91" y1="194.57" x2="1908.91" y2="203.26" stroke="#111" stroke-width="0.99"/>
<line x1="1956.52" y1="303.7" x2="1956.52" y2="310" stroke="#000" stroke-width="3.3"/>
<line x1="1956.52" y1="283.7" x2="1956.52" y2="287.39" stroke="#111" stroke-width="1.1"/>
<line x1="1949.35" y1="283.7" x2="1963.7" y2="283.7" stroke="#111" stroke-width="1.1"/>
<line x1="1949.35" y1="287.39" x2="1963.7" y2="287.39" stroke="#111" stroke-width="1.1"/>
<circle cx="1948.91" cy="282.17" r="4.85" fill="#fff" stroke="#000" stroke-width="1.25"/>
<circle cx="1956.52" cy="285.87" r="4.85" fill="#fff" stroke="#000" stroke-width="1.25"/>
<circle cx="1964.57" cy="286.52" r="4.85" fill="#fff" stroke="#000" stroke-width="1.25"/>
<line x1="1949.35" y1="283.7" x2="1963.7" y2="283.7" stroke="#111" stroke-width="0.99"/>
<line x1="1956.52" y1="283.7" x2="1956.52" y2="287.39" stroke="#111" stroke-width="0.99"/>
<line x1="1949.35" y1="287.39" x2="1963.7" y2="287.39" stroke="#111" stroke-width="0.99"/>
<text x="1815" y="40.2" font-size="30.8" text-anchor="middle">MKK6-p38α</text>
<text x="1712.24" y="333.7" font-size="27" text-anchor="end" transform="rotate(-45 1712.24 333.7)">-</text>
<text x="1768.55" y="329.3" font-size="27" text-anchor="end" transform="rotate(-45 1768.55 329.3)">+ <tspan font-weight="bold">28</tspan><tspan font-style="italic">S</tspan></text>
<text x="1816.18" y="329.3" font-size="27" text-anchor="end" transform="rotate(-45 1816.18 329.3)">+ <tspan font-weight="bold">32</tspan><tspan font-style="italic">S</tspan></text>
<text x="1862.1" y="328.7" font-size="27" text-anchor="end" transform="rotate(-45 1862.1 328.7)">+ <tspan font-weight="bold">6</tspan><tspan font-style="italic">S,S</tspan></text>
<text x="1915.81" y="327.4" font-size="27" text-anchor="end" transform="rotate(-45 1915.81 327.4)">+ <tspan font-weight="bold">6</tspan><tspan font-style="italic">R,R</tspan></text>
<text x="1968.5" y="269" font-size="23" font-weight="bold" transform="rotate(-90 1968.5 269)">MKK6_D0</text>
<ellipse cx="117.47" cy="659.32" rx="83.83" ry="42.25" fill="none" stroke="#000" stroke-width="3.3"/>
<circle cx="187.03" cy="659.32" r="13.99" fill="none" stroke="#333" stroke-width="0.6"/>
<text x="51.13" y="660.67" font-size="30.6">ERK2</text>
<text x="201.29" y="570.52" font-size="30.6">MKK1</text>
<text x="265.88" y="694.84" font-size="30.6">MKP3</text>
<text x="105.76" y="748.67" font-size="30.6">RSK1</text>
<line x1="189.18" y1="560.29" x2="189.18" y2="601.61" stroke="#000" stroke-width="0.8"/>
<polygon points="189.18,617.61 183.68,600.61 194.68,600.61" fill="#000"/>
<line x1="271.8" y1="657.44" x2="231.29" y2="657.44" stroke="#000" stroke-width="0.8"/>
<polygon points="215.29,657.44 232.29,651.94 232.29,662.94" fill="#000"/>
<line x1="195.37" y1="692.96" x2="195.37" y2="734.01" stroke="#000" stroke-width="0.8"/>
<polygon points="195.37,750.01 189.87,733.01 200.87,733.01" fill="#000"/>
<line x1="491.06" y1="512.26" x2="491.06" y2="493.38" stroke="#000" stroke-width="1.75"/>
<line x1="487.26" y1="512.26" x2="487.26" y2="493.38" stroke="#000" stroke-width="1.75"/>
<line x1="489.16" y1="512.26" x2="511.92" y2="524.81" stroke="#000" stroke-width="1.75"/>
<line x1="511.92" y1="524.81" x2="511.92" y2="551.21" stroke="#000" stroke-width="1.75"/>
<line x1="508.12" y1="528.24" x2="508.12" y2="547.78" stroke="#000" stroke-width="1.75"/>
<line x1="511.92" y1="551.21" x2="489.16" y2="563.76" stroke="#000" stroke-width="1.75"/>
<line x1="489.16" y1="563.76" x2="466.4" y2="551.21" stroke="#000" stroke-width="1.75"/>
<line x1="466.4" y1="551.21" x2="466.4" y2="524.81" stroke="#000" stroke-width="1.75"/>
<line x1="466.4" y1="524.81" x2="489.16" y2="512.26" stroke="#000" stroke-width="1.75"/>
<line x1="511.92" y1="524.81" x2="534.68" y2="512.26" stroke="#000" stroke-width="1.75"/>
<line x1="536.58" y1="512.26" x2="536.58" y2="493.38" stroke="#000" stroke-width="1.75"/>
<line x1="532.78" y1="512.26" x2="532.78" y2="493.38" stroke="#000" stroke-width="1.75"/>
<line x1="534.68" y1="512.26" x2="550.04" y2="520.64" stroke="#000" stroke-width="1.75"/>
<line x1="563.96" y1="520.67" x2="579.52" y2="512.26" stroke="#000" stroke-width="1.75"/>
<line x1="579.52" y1="512.26" x2="579.52" y2="485.86" stroke="#000" stroke-width="1.75"/>
<line x1="579.52" y1="512.26" x2="601.83" y2="499.46" stroke="#000" stroke-width="1.75"/>
<line x1="579.52" y1="512.26" x2="601.83" y2="525.06" stroke="#000" stroke-width="1.75"/>
<line x1="509.68" y1="577.45" x2="509.76" y2="594.61" stroke="#000" stroke-width="1.75"/>
<line x1="513.48" y1="577.43" x2="513.56" y2="594.59" stroke="#000" stroke-width="1.75"/>
<line x1="511.58" y1="577.44" x2="527.14" y2="568.47" stroke="#000" stroke-width="1.75"/>
<line x1="540.89" y1="568.42" x2="556.76" y2="577.44" stroke="#000" stroke-width="1.75"/>
<polygon points="489.16,563.76 510,580.03 513.17,574.84" fill="#000"/>
<line x1="485.78" y1="565.32" x2="486.27" y2="566.11" stroke="#000" stroke-width="1.49"/>
<line x1="482.4" y1="566.88" x2="483.38" y2="568.45" stroke="#000" stroke-width="1.49"/>
<line x1="479.02" y1="568.45" x2="480.48" y2="570.8" stroke="#000" stroke-width="1.49"/>
<line x1="475.64" y1="570.01" x2="477.59" y2="573.14" stroke="#000" stroke-width="1.49"/>
<line x1="472.26" y1="571.57" x2="474.69" y2="575.49" stroke="#000" stroke-width="1.49"/>
<line x1="468.87" y1="573.13" x2="471.8" y2="577.83" stroke="#000" stroke-width="1.49"/>
<line x1="465.49" y1="574.7" x2="468.91" y2="580.18" stroke="#000" stroke-width="1.49"/>
<line x1="556.76" y1="577.44" x2="579.29" y2="564.56" stroke="#000" stroke-width="1.75"/>
<line x1="579.29" y1="564.56" x2="601.37" y2="552.06" stroke="#000" stroke-width="1.75"/>
<line x1="582.88" y1="567.81" x2="603.24" y2="556.29" stroke="#000" stroke-width="1.75"/>
<line x1="578.35" y1="559.81" x2="598.71" y2="548.28" stroke="#000" stroke-width="1.75"/>
<text x="489.16" y="491.4" font-size="16.5" text-anchor="middle" stroke="#000" stroke-width="0.36">O</text>
<text x="534.68" y="491.4" font-size="16.5" text-anchor="middle" stroke="#000" stroke-width="0.36">O</text>
<text x="556.99" y="530.37" font-size="16.5" text-anchor="middle" stroke="#000" stroke-width="0.36">O</text>
<text x="511.7" y="608.46" font-size="16.5" text-anchor="middle" stroke="#000" stroke-width="0.36">O</text>
<text x="534" y="570.45" font-size="16.5" text-anchor="middle" stroke="#000" stroke-width="0.36">O</text>
<line x1="484.31" y1="603.05" x2="484.31" y2="589.48" stroke="#000" stroke-width="0.9"/>
<polygon points="484.31,574.18 489.76,590.48 478.86,590.48" fill="#000"/>
<text x="407.51" y="627.49" font-size="23.2">stereogenic center</text>
<text x="507.43" y="661.92" font-size="27" text-anchor="middle"><tspan font-weight="bold">28</tspan><tspan font-style="italic">S</tspan></text>
<line x1="469.58" y1="787.46" x2="469.58" y2="768.58" stroke="#000" stroke-width="1.75"/>
<line x1="465.78" y1="787.46" x2="465.78" y2="768.58" stroke="#000" stroke-width="1.75"/>
<line x1="467.68" y1="787.46" x2="490.44" y2="800.01" stroke="#000" stroke-width="1.75"/>
<line x1="490.44" y1="800.01" x2="490.44" y2="826.41" stroke="#000" stroke-width="1.75"/>
<line x1="486.64" y1="803.44" x2="486.64" y2="822.98" stroke="#000" stroke-width="1.75"/>
<line x1="490.44" y1="826.41" x2="467.68" y2="838.96" stroke="#000" stroke-width="1.75"/>
<line x1="467.68" y1="838.96" x2="444.92" y2="826.41" stroke="#000" stroke-width="1.75"/>
<line x1="444.92" y1="826.41" x2="444.92" y2="800.01" stroke="#000" stroke-width="1.75"/>
<line x1="444.92" y1="800.01" x2="467.68" y2="787.46" stroke="#000" stroke-width="1.75"/>
<line x1="490.44" y1="800.01" x2="513.2" y2="787.46" stroke="#000" stroke-width="1.75"/>
<line x1="515.1" y1="787.46" x2="515.1" y2="768.58" stroke="#000" stroke-width="1.75"/>
<line x1="511.3" y1="787.46" x2="511.3" y2="768.58" stroke="#000" stroke-width="1.75"/>
<line x1="513.2" y1="787.46" x2="528.55" y2="795.84" stroke="#000" stroke-width="1.75"/>
<line x1="542.47" y1="795.87" x2="558.03" y2="787.46" stroke="#000" stroke-width="1.75"/>
<line x1="558.03" y1="787.46" x2="558.03" y2="761.06" stroke="#000" stroke-width="1.75"/>
<line x1="558.03" y1="787.46" x2="580.34" y2="774.66" stroke="#000" stroke-width="1.75"/>
<line x1="558.03" y1="787.46" x2="580.34" y2="800.26" stroke="#000" stroke-width="1.75"/>
<line x1="488.2" y1="852.65" x2="488.27" y2="869.81" stroke="#000" stroke-width="1.75"/>
<line x1="492" y1="852.63" x2="492.07" y2="869.79" stroke="#000" stroke-width="1.75"/>
<line x1="490.1" y1="852.64" x2="505.65" y2="843.67" stroke="#000" stroke-width="1.75"/>
<line x1="519.4" y1="843.62" x2="535.27" y2="852.64" stroke="#000" stroke-width="1.75"/>
<line x1="470.64" y1="841.31" x2="471.12" y2="840.52" stroke="#000" stroke-width="1.49"/>
<line x1="473.6" y1="843.65" x2="474.56" y2="842.08" stroke="#000" stroke-width="1.49"/>
<line x1="476.56" y1="846" x2="478.01" y2="843.64" stroke="#000" stroke-width="1.49"/>
<line x1="479.53" y1="848.35" x2="481.45" y2="845.2" stroke="#000" stroke-width="1.49"/>
<line x1="482.49" y1="850.7" x2="484.89" y2="846.76" stroke="#000" stroke-width="1.49"/>
<line x1="485.45" y1="853.05" x2="488.34" y2="848.32" stroke="#000" stroke-width="1.49"/>
<line x1="488.41" y1="855.39" x2="491.78" y2="849.88" stroke="#000" stroke-width="1.49"/>
<polygon points="467.68,838.96 444.11,850.06 447.32,855.22" fill="#000"/>
<line x1="535.27" y1="852.64" x2="557.81" y2="839.76" stroke="#000" stroke-width="1.75"/>
<line x1="557.81" y1="839.76" x2="579.88" y2="827.26" stroke="#000" stroke-width="1.75"/>
<line x1="561.4" y1="843.01" x2="581.75" y2="831.49" stroke="#000" stroke-width="1.75"/>
<line x1="556.87" y1="835" x2="577.22" y2="823.48" stroke="#000" stroke-width="1.75"/>
<text x="467.68" y="766.6" font-size="16.5" text-anchor="middle" stroke="#000" stroke-width="0.36">O</text>
<text x="513.2" y="766.6" font-size="16.5" text-anchor="middle" stroke="#000" stroke-width="0.36">O</text>
<text x="535.5" y="805.57" font-size="16.5" text-anchor="middle" stroke="#000" stroke-width="0.36">O</text>
<text x="490.21" y="883.66" font-size="16.5" text-anchor="middle" stroke="#000" stroke-width="0.36">O</text>
<text x="512.51" y="845.65" font-size="16.5" text-anchor="middle" stroke="#000" stroke-width="0.36">O</text>
<text x="472.48" y="925.96" font-size="27" text-anchor="middle"><tspan font-weight="bold">28</tspan><tspan font-style="italic">R</tspan></text>
<line x1="679.98" y1="501" x2="679.98" y2="485.21" stroke="#000" stroke-width="1.5"/>
<line x1="676.68" y1="501" x2="676.68" y2="485.21" stroke="#000" stroke-width="1.5"/>
<line x1="678.33" y1="501" x2="699.25" y2="511.46" stroke="#000" stroke-width="1.5"/>
<line x1="699.25" y1="511.46" x2="699.25" y2="533.64" stroke="#000" stroke-width="1.5"/>
<line x1="695.95" y1="514.35" x2="695.95" y2="530.76" stroke="#000" stroke-width="1.5"/>
<line x1="699.25" y1="533.64" x2="678.33" y2="544.1" stroke="#000" stroke-width="1.5"/>
<line x1="678.33" y1="544.1" x2="657.41" y2="533.64" stroke="#000" stroke-width="1.5"/>
<line x1="657.41" y1="533.64" x2="657.41" y2="511.46" stroke="#000" stroke-width="1.5"/>
<line x1="657.41" y1="511.46" x2="678.33" y2="501" stroke="#000" stroke-width="1.5"/>
<line x1="699.25" y1="511.46" x2="720.17" y2="501" stroke="#000" stroke-width="1.5"/>
<line x1="721.82" y1="501" x2="721.82" y2="485.21" stroke="#000" stroke-width="1.5"/>
<line x1="718.52" y1="501" x2="718.52" y2="485.21" stroke="#000" stroke-width="1.5"/>
<line x1="720.17" y1="501" x2="734.65" y2="508.17" stroke="#000" stroke-width="1.5"/>
<line x1="746.7" y1="508.19" x2="761.38" y2="501" stroke="#000" stroke-width="1.5"/>
<line x1="761.38" y1="501" x2="761.38" y2="478.82" stroke="#000" stroke-width="1.5"/>
<line x1="761.38" y1="501" x2="781.88" y2="490.33" stroke="#000" stroke-width="1.5"/>
<line x1="761.38" y1="501" x2="781.88" y2="511.67" stroke="#000" stroke-width="1.5"/>
<line x1="697.28" y1="555.51" x2="697.35" y2="569.86" stroke="#000" stroke-width="1.5"/>
<line x1="700.58" y1="555.5" x2="700.65" y2="569.85" stroke="#000" stroke-width="1.5"/>
<line x1="698.93" y1="555.51" x2="713.58" y2="547.85" stroke="#000" stroke-width="1.5"/>
<line x1="725.51" y1="547.81" x2="740.46" y2="555.51" stroke="#000" stroke-width="1.5"/>
<polygon points="678.33,544.1 697.65,557.82 700.21,553.2" fill="#000"/>
<line x1="675.25" y1="545.38" x2="675.64" y2="546.08" stroke="#000" stroke-width="1.27"/>
<line x1="672.16" y1="546.66" x2="672.95" y2="548.06" stroke="#000" stroke-width="1.27"/>
<line x1="669.08" y1="547.94" x2="670.27" y2="550.04" stroke="#000" stroke-width="1.27"/>
<line x1="666" y1="549.22" x2="667.58" y2="552.01" stroke="#000" stroke-width="1.27"/>
<line x1="662.92" y1="550.5" x2="664.89" y2="553.99" stroke="#000" stroke-width="1.27"/>
<line x1="659.84" y1="551.78" x2="662.2" y2="555.97" stroke="#000" stroke-width="1.27"/>
<line x1="656.76" y1="553.06" x2="659.52" y2="557.95" stroke="#000" stroke-width="1.27"/>
<line x1="740.46" y1="555.51" x2="740.49" y2="577.69" stroke="#000" stroke-width="1.5"/>
<line x1="740.49" y1="577.69" x2="722.01" y2="589.93" stroke="#000" stroke-width="1.5"/>
<line x1="739.91" y1="582.04" x2="726.24" y2="591.09" stroke="#000" stroke-width="1.5"/>
<line x1="722.01" y1="589.93" x2="725.96" y2="604.27" stroke="#000" stroke-width="1.5"/>
<line x1="734.46" y1="610.75" x2="745.23" y2="610.75" stroke="#000" stroke-width="1.5"/>
<line x1="754.31" y1="604.46" x2="757.4" y2="596.22" stroke="#000" stroke-width="1.5"/>
<line x1="751.22" y1="603.3" x2="754.31" y2="595.06" stroke="#000" stroke-width="1.5"/>
<line x1="754.08" y1="586.33" x2="740.49" y2="577.69" stroke="#000" stroke-width="1.5"/>
<line x1="723.92" y1="616.28" x2="715" y2="629.19" stroke="#000" stroke-width="1.5"/>
<line x1="715" y1="629.19" x2="723.21" y2="649.65" stroke="#000" stroke-width="1.5"/>
<line x1="723.21" y1="649.65" x2="708.41" y2="666.53" stroke="#000" stroke-width="1.5"/>
<line x1="718.81" y1="649.67" x2="707.85" y2="662.16" stroke="#000" stroke-width="1.5"/>
<line x1="708.41" y1="666.53" x2="685.39" y2="662.96" stroke="#000" stroke-width="1.5"/>
<line x1="685.39" y1="662.96" x2="677.19" y2="642.51" stroke="#000" stroke-width="1.5"/>
<line x1="687.39" y1="659.08" x2="681.32" y2="643.94" stroke="#000" stroke-width="1.5"/>
<line x1="677.19" y1="642.51" x2="691.99" y2="625.62" stroke="#000" stroke-width="1.5"/>
<line x1="691.99" y1="625.62" x2="715" y2="629.19" stroke="#000" stroke-width="1.5"/>
<line x1="694.48" y1="629.35" x2="711.51" y2="631.99" stroke="#000" stroke-width="1.5"/>
<line x1="685.39" y1="662.96" x2="675.57" y2="677.31" stroke="#000" stroke-width="1.5"/>
<line x1="665.09" y1="682.15" x2="649.65" y2="680.52" stroke="#000" stroke-width="1.5"/>
<line x1="674.88" y1="688.82" x2="681.67" y2="701.86" stroke="#000" stroke-width="1.5"/>
<text x="678.33" y="483.53" font-size="14" text-anchor="middle" stroke="#000" stroke-width="0.31">O</text>
<text x="720.17" y="483.53" font-size="14" text-anchor="middle" stroke="#000" stroke-width="0.31">O</text>
<text x="740.67" y="516.19" font-size="14" text-anchor="middle" stroke="#000" stroke-width="0.31">O</text>
<text x="699.04" y="581.62" font-size="14" text-anchor="middle" stroke="#000" stroke-width="0.31">O</text>
<text x="719.54" y="549.77" font-size="14" text-anchor="middle" stroke="#000" stroke-width="0.31">O</text>
<text x="727.74" y="615.79" font-size="14" text-anchor="middle" stroke="#000" stroke-width="0.31">N</text>
<text x="751.95" y="615.79" font-size="14" text-anchor="middle" stroke="#000" stroke-width="0.31">N</text>
<text x="759.76" y="594.97" font-size="14" text-anchor="middle" stroke="#000" stroke-width="0.31">N</text>
<text x="671.77" y="687.9" font-size="14" text-anchor="middle" stroke="#000" stroke-width="0.31">N</text>
<text x="781.83" y="659.84" font-size="27" text-anchor="middle"><tspan font-weight="bold">32</tspan><tspan font-style="italic">S</tspan></text>
<line x1="657.46" y1="739.96" x2="657.46" y2="724.17" stroke="#000" stroke-width="1.5"/>
<line x1="654.16" y1="739.96" x2="654.16" y2="724.17" stroke="#000" stroke-width="1.5"/>
<line x1="655.81" y1="739.96" x2="676.73" y2="750.42" stroke="#000" stroke-width="1.5"/>
<line x1="676.73" y1="750.42" x2="676.73" y2="772.6" stroke="#000" stroke-width="1.5"/>
<line x1="673.43" y1="753.3" x2="673.43" y2="769.72" stroke="#000" stroke-width="1.5"/>
<line x1="676.73" y1="772.6" x2="655.81" y2="783.06" stroke="#000" stroke-width="1.5"/>
<line x1="655.81" y1="783.06" x2="634.89" y2="772.6" stroke="#000" stroke-width="1.5"/>
<line x1="634.89" y1="772.6" x2="634.89" y2="750.42" stroke="#000" stroke-width="1.5"/>
<line x1="634.89" y1="750.42" x2="655.81" y2="739.96" stroke="#000" stroke-width="1.5"/>
<line x1="676.73" y1="750.42" x2="697.65" y2="739.96" stroke="#000" stroke-width="1.5"/>
<line x1="699.3" y1="739.96" x2="699.3" y2="724.17" stroke="#000" stroke-width="1.5"/>
<line x1="696" y1="739.96" x2="696" y2="724.17" stroke="#000" stroke-width="1.5"/>
<line x1="697.65" y1="739.96" x2="712.12" y2="747.13" stroke="#000" stroke-width="1.5"/>
<line x1="724.18" y1="747.15" x2="738.86" y2="739.96" stroke="#000" stroke-width="1.5"/>
<line x1="738.86" y1="739.96" x2="738.86" y2="717.78" stroke="#000" stroke-width="1.5"/>
<line x1="738.86" y1="739.96" x2="759.36" y2="729.29" stroke="#000" stroke-width="1.5"/>
<line x1="738.86" y1="739.96" x2="759.36" y2="750.63" stroke="#000" stroke-width="1.5"/>
<line x1="674.76" y1="794.47" x2="674.83" y2="808.82" stroke="#000" stroke-width="1.5"/>
<line x1="678.06" y1="794.45" x2="678.13" y2="808.81" stroke="#000" stroke-width="1.5"/>
<line x1="676.41" y1="794.46" x2="691.06" y2="786.8" stroke="#000" stroke-width="1.5"/>
<line x1="702.99" y1="786.77" x2="717.94" y2="794.46" stroke="#000" stroke-width="1.5"/>
<line x1="658.55" y1="785.04" x2="658.94" y2="784.34" stroke="#000" stroke-width="1.27"/>
<line x1="661.3" y1="787.02" x2="662.08" y2="785.62" stroke="#000" stroke-width="1.27"/>
<line x1="664.05" y1="789" x2="665.22" y2="786.9" stroke="#000" stroke-width="1.27"/>
<line x1="666.8" y1="790.98" x2="668.36" y2="788.17" stroke="#000" stroke-width="1.27"/>
<line x1="669.55" y1="792.96" x2="671.49" y2="789.45" stroke="#000" stroke-width="1.27"/>
<line x1="672.3" y1="794.94" x2="674.63" y2="790.73" stroke="#000" stroke-width="1.27"/>
<line x1="675.05" y1="796.92" x2="677.77" y2="792.01" stroke="#000" stroke-width="1.27"/>
<polygon points="655.81,783.06 634.32,792.16 636.92,796.76" fill="#000"/>
<line x1="717.94" y1="794.46" x2="717.97" y2="816.63" stroke="#000" stroke-width="1.5"/>
<line x1="717.97" y1="816.63" x2="699.49" y2="828.86" stroke="#000" stroke-width="1.5"/>
<line x1="717.39" y1="820.97" x2="703.72" y2="830.02" stroke="#000" stroke-width="1.5"/>
<line x1="699.49" y1="828.86" x2="703.44" y2="843.21" stroke="#000" stroke-width="1.5"/>
<line x1="711.94" y1="849.69" x2="722.71" y2="849.69" stroke="#000" stroke-width="1.5"/>
<line x1="731.79" y1="843.39" x2="734.88" y2="835.15" stroke="#000" stroke-width="1.5"/>
<line x1="728.7" y1="842.24" x2="731.79" y2="834" stroke="#000" stroke-width="1.5"/>
<line x1="731.56" y1="825.26" x2="717.97" y2="816.63" stroke="#000" stroke-width="1.5"/>
<line x1="701.4" y1="855.22" x2="692.48" y2="868.12" stroke="#000" stroke-width="1.5"/>
<line x1="692.48" y1="868.12" x2="700.69" y2="888.58" stroke="#000" stroke-width="1.5"/>
<line x1="700.69" y1="888.58" x2="685.88" y2="905.47" stroke="#000" stroke-width="1.5"/>
<line x1="696.28" y1="888.6" x2="685.33" y2="901.1" stroke="#000" stroke-width="1.5"/>
<line x1="685.88" y1="905.47" x2="662.87" y2="901.9" stroke="#000" stroke-width="1.5"/>
<line x1="662.87" y1="901.9" x2="654.66" y2="881.44" stroke="#000" stroke-width="1.5"/>
<line x1="664.87" y1="898.01" x2="658.79" y2="882.87" stroke="#000" stroke-width="1.5"/>
<line x1="654.66" y1="881.44" x2="669.47" y2="864.55" stroke="#000" stroke-width="1.5"/>
<line x1="669.47" y1="864.55" x2="692.48" y2="868.12" stroke="#000" stroke-width="1.5"/>
<line x1="671.96" y1="868.28" x2="688.99" y2="870.92" stroke="#000" stroke-width="1.5"/>
<line x1="662.87" y1="901.9" x2="653.05" y2="916.25" stroke="#000" stroke-width="1.5"/>
<line x1="642.57" y1="921.08" x2="627.13" y2="919.45" stroke="#000" stroke-width="1.5"/>
<line x1="652.36" y1="927.75" x2="659.14" y2="940.79" stroke="#000" stroke-width="1.5"/>
<text x="655.81" y="722.49" font-size="14" text-anchor="middle" stroke="#000" stroke-width="0.31">O</text>
<text x="697.65" y="722.49" font-size="14" text-anchor="middle" stroke="#000" stroke-width="0.31">O</text>
<text x="718.15" y="755.15" font-size="14" text-anchor="middle" stroke="#000" stroke-width="0.31">O</text>
<text x="676.52" y="820.57" font-size="14" text-anchor="middle" stroke="#000" stroke-width="0.31">O</text>
<text x="697.02" y="788.73" font-size="14" text-anchor="middle" stroke="#000" stroke-width="0.31">O</text>
<text x="705.22" y="854.73" font-size="14" text-anchor="middle" stroke="#000" stroke-width="0.31">N</text>
<text x="729.43" y="854.73" font-size="14" text-anchor="middle" stroke="#000" stroke-width="0.31">N</text>
<text x="737.24" y="833.9" font-size="14" text-anchor="middle" stroke="#000" stroke-width="0.31">N</text>
<text x="649.25" y="926.83" font-size="14" text-anchor="middle" stroke="#000" stroke-width="0.31">N</text>
<text x="771.99" y="925.18" font-size="27" text-anchor="middle"><tspan font-weight="bold">32</tspan><tspan font-style="italic">R</tspan></text>
<rect x="975.03" y="553.14" width="22.3" height="280.66" fill="#000"/>
<rect x="1022.38" y="668.28" width="22.3" height="165.52" fill="#000"/>
<rect x="1069.99" y="767.12" width="22.3" height="66.68" fill="#000"/>
<rect x="1117.34" y="766.6" width="22.3" height="67.2" fill="#000"/>
<rect x="964.2" y="524.2" width="188.1" height="309.6" fill="none" stroke="#000" stroke-width="3.3"/>
<line x1="957.7" y1="833.8" x2="964.2" y2="833.8" stroke="#000" stroke-width="3.3"/>
<text x="957.2" y="842.73" font-size="23" font-weight="bold" text-anchor="end">0</text>
<line x1="960.6" y1="808" x2="964.2" y2="808" stroke="#000" stroke-width="3.3"/>
<line x1="957.7" y1="782.2" x2="964.2" y2="782.2" stroke="#000" stroke-width="3.3"/>
<text x="957.2" y="791.13" font-size="23" font-weight="bold" text-anchor="end">10000</text>
<line x1="960.6" y1="756.4" x2="964.2" y2="756.4" stroke="#000" stroke-width="3.3"/>
<line x1="957.7" y1="730.6" x2="964.2" y2="730.6" stroke="#000" stroke-width="3.3"/>
<text x="957.2" y="739.53" font-size="23" font-weight="bold" text-anchor="end">20000</text>
<line x1="960.6" y1="704.8" x2="964.2" y2="704.8" stroke="#000" stroke-width="3.3"/>
<line x1="957.7" y1="679" x2="964.2" y2="679" stroke="#000" stroke-width="3.3"/>
<text x="957.2" y="687.93" font-size="23" font-weight="bold" text-anchor="end">30000</text>
<line x1="960.6" y1="653.2" x2="964.2" y2="653.2" stroke="#000" stroke-width="3.3"/>
<line x1="957.7" y1="627.4" x2="964.2" y2="627.4" stroke="#000" stroke-width="3.3"/>
<text x="957.2" y="636.33" font-size="23" font-weight="bold" text-anchor="end">40000</text>
<line x1="960.6" y1="601.6" x2="964.2" y2="601.6" stroke="#000" stroke-width="3.3"/>
<line x1="957.7" y1="575.8" x2="964.2" y2="575.8" stroke="#000" stroke-width="3.3"/>
<text x="957.2" y="584.73" font-size="23" font-weight="bold" text-anchor="end">50000</text>
<line x1="960.6" y1="550" x2="964.2" y2="550" stroke="#000" stroke-width="3.3"/>
<line x1="957.7" y1="524.2" x2="964.2" y2="524.2" stroke="#000" stroke-width="3.3"/>
<text x="957.2" y="533.13" font-size="23" font-weight="bold" text-anchor="end">60000</text>
<line x1="986.18" y1="833.8" x2="986.18" y2="840.1" stroke="#000" stroke-width="3.3"/>
<line x1="986.18" y1="536.33" x2="986.18" y2="553.14" stroke="#111" stroke-width="1.1"/>
<line x1="980.39" y1="536.33" x2="991.98" y2="536.33" stroke="#111" stroke-width="1.1"/>
<circle cx="986.18" cy="532.45" r="4.85" fill="#fff" stroke="#000" stroke-width="1.25"/>
<circle cx="981.01" cy="550.56" r="4.85" fill="#fff" stroke="#000" stroke-width="1.25"/>
<circle cx="991.36" cy="555.21" r="4.85" fill="#fff" stroke="#000" stroke-width="1.25"/>
<circle cx="986.18" cy="573.84" r="4.85" fill="#fff" stroke="#000" stroke-width="1.25"/>
<line x1="980.39" y1="536.33" x2="991.98" y2="536.33" stroke="#111" stroke-width="0.99"/>
<line x1="986.18" y1="536.33" x2="986.18" y2="553.14" stroke="#111" stroke-width="0.99"/>
<line x1="1033.53" y1="833.8" x2="1033.53" y2="840.1" stroke="#000" stroke-width="3.3"/>
<line x1="1033.53" y1="659.74" x2="1033.53" y2="668.28" stroke="#111" stroke-width="1.1"/>
<line x1="1027.73" y1="659.74" x2="1039.33" y2="659.74" stroke="#111" stroke-width="1.1"/>
<circle cx="1033.53" cy="657.15" r="4.85" fill="#fff" stroke="#000" stroke-width="1.25"/>
<circle cx="1028.36" cy="665.17" r="4.85" fill="#fff" stroke="#000" stroke-width="1.25"/>
<circle cx="1033.53" cy="670.87" r="4.85" fill="#fff" stroke="#000" stroke-width="1.25"/>
<circle cx="1038.71" cy="676.82" r="4.85" fill="#fff" stroke="#000" stroke-width="1.25"/>
<line x1="1027.73" y1="659.74" x2="1039.33" y2="659.74" stroke="#111" stroke-width="0.99"/>
<line x1="1033.53" y1="659.74" x2="1033.53" y2="668.28" stroke="#111" stroke-width="0.99"/>
<line x1="1081.14" y1="833.8" x2="1081.14" y2="840.1" stroke="#000" stroke-width="3.3"/>
<line x1="1081.14" y1="758.84" x2="1081.14" y2="767.12" stroke="#111" stroke-width="1.1"/>
<line x1="1075.34" y1="758.84" x2="1086.94" y2="758.84" stroke="#111" stroke-width="1.1"/>
<circle cx="1081.14" cy="757.02" r="4.85" fill="#fff" stroke="#000" stroke-width="1.25"/>
<circle cx="1075.96" cy="762.2" r="4.85" fill="#fff" stroke="#000" stroke-width="1.25"/>
<circle cx="1081.14" cy="767.89" r="4.85" fill="#fff" stroke="#000" stroke-width="1.25"/>
<circle cx="1085.8" cy="774.36" r="4.85" fill="#fff" stroke="#000" stroke-width="1.25"/>
<line x1="1075.34" y1="758.84" x2="1086.94" y2="758.84" stroke="#111" stroke-width="0.99"/>
<line x1="1081.14" y1="758.84" x2="1081.14" y2="767.12" stroke="#111" stroke-width="0.99"/>
<line x1="1128.49" y1="833.8" x2="1128.49" y2="840.1" stroke="#000" stroke-width="3.3"/>
<line x1="1128.49" y1="753.66" x2="1128.49" y2="766.6" stroke="#111" stroke-width="1.1"/>
<line x1="1122.69" y1="753.66" x2="1134.28" y2="753.66" stroke="#111" stroke-width="1.1"/>
<circle cx="1123.83" cy="752.37" r="4.85" fill="#fff" stroke="#000" stroke-width="1.25"/>
<circle cx="1133.66" cy="763.23" r="4.85" fill="#fff" stroke="#000" stroke-width="1.25"/>
<circle cx="1123.83" cy="768.41" r="4.85" fill="#fff" stroke="#000" stroke-width="1.25"/>
<circle cx="1133.66" cy="782.12" r="4.85" fill="#fff" stroke="#000" stroke-width="1.25"/>
<line x1="1122.69" y1="753.66" x2="1134.28" y2="753.66" stroke="#111" stroke-width="0.99"/>
<line x1="1128.49" y1="753.66" x2="1128.49" y2="766.6" stroke="#111" stroke-width="0.99"/>
<text x="1074" y="507.3" font-size="30.8" text-anchor="middle">MKK1-ERK2</text>
<text x="879" y="655" font-size="30.8" text-anchor="middle" transform="rotate(-90 879 655)">Luminescence</text>
<text x="994.58" y="863.8" font-size="27" text-anchor="end" transform="rotate(-45 994.58 863.8)">-</text>
<text x="1046.73" y="863.1" font-size="27" text-anchor="end" transform="rotate(-45 1046.73 863.1)">+ <tspan font-weight="bold">32</tspan><tspan font-style="italic">S</tspan></text>
<text x="1081.24" y="863.8" font-size="27" text-anchor="end" transform="rotate(-45 1081.24 863.8)">-</text>
<text x="1142.49" y="863.1" font-size="27" text-anchor="end" transform="rotate(-45 1142.49 863.1)">+ <tspan font-weight="bold">32</tspan><tspan font-style="italic">S</tspan></text>
<line x1="1071.6" y1="729.9" x2="1140.6" y2="729.9" stroke="#000" stroke-width="3.4"/>
<text x="1116.5" y="714" font-size="23" font-weight="bold" transform="rotate(-90 1116.5 714)">MKK1_D0</text>
<rect x="1254.8" y="566.91" width="30.3" height="266.89" fill="#000"/>
<rect x="1318.22" y="668.9" width="30.3" height="164.9" fill="#000"/>
<rect x="1381.65" y="616.61" width="30.3" height="217.19" fill="#000"/>
<rect x="1239.7" y="524.2" width="188.2" height="309.6" fill="none" stroke="#000" stroke-width="3.3"/>
<line x1="1233.2" y1="833.8" x2="1239.7" y2="833.8" stroke="#000" stroke-width="3.3"/>
<text x="1232.7" y="842.73" font-size="23" font-weight="bold" text-anchor="end">0</text>
<line x1="1236.1" y1="808" x2="1239.7" y2="808" stroke="#000" stroke-width="3.3"/>
<line x1="1233.2" y1="782.2" x2="1239.7" y2="782.2" stroke="#000" stroke-width="3.3"/>
<text x="1232.7" y="791.13" font-size="23" font-weight="bold" text-anchor="end">5000</text>
<line x1="1236.1" y1="756.4" x2="1239.7" y2="756.4" stroke="#000" stroke-width="3.3"/>
<line x1="1233.2" y1="730.6" x2="1239.7" y2="730.6" stroke="#000" stroke-width="3.3"/>
<text x="1232.7" y="739.53" font-size="23" font-weight="bold" text-anchor="end">10000</text>
<line x1="1236.1" y1="704.8" x2="1239.7" y2="704.8" stroke="#000" stroke-width="3.3"/>
<line x1="1233.2" y1="679" x2="1239.7" y2="679" stroke="#000" stroke-width="3.3"/>
<text x="1232.7" y="687.93" font-size="23" font-weight="bold" text-anchor="end">15000</text>
<line x1="1236.1" y1="653.2" x2="1239.7" y2="653.2" stroke="#000" stroke-width="3.3"/>
<line x1="1233.2" y1="627.4" x2="1239.7" y2="627.4" stroke="#000" stroke-width="3.3"/>
<text x="1232.7" y="636.33" font-size="23" font-weight="bold" text-anchor="end">20000</text>
<line x1="1236.1" y1="601.6" x2="1239.7" y2="601.6" stroke="#000" stroke-width="3.3"/>
<line x1="1233.2" y1="575.8" x2="1239.7" y2="575.8" stroke="#000" stroke-width="3.3"/>
<text x="1232.7" y="584.73" font-size="23" font-weight="bold" text-anchor="end">25000</text>
<line x1="1236.1" y1="550" x2="1239.7" y2="550" stroke="#000" stroke-width="3.3"/>
<line x1="1233.2" y1="524.2" x2="1239.7" y2="524.2" stroke="#000" stroke-width="3.3"/>
<text x="1232.7" y="533.13" font-size="23" font-weight="bold" text-anchor="end">30000</text>
<line x1="1269.95" y1="833.8" x2="1269.95" y2="840.1" stroke="#000" stroke-width="3.3"/>
<line x1="1269.95" y1="552.67" x2="1269.95" y2="566.91" stroke="#111" stroke-width="1.1"/>
<line x1="1262.07" y1="552.67" x2="1277.83" y2="552.67" stroke="#111" stroke-width="1.1"/>
<circle cx="1262.18" cy="548.79" r="4.85" fill="#fff" stroke="#000" stroke-width="1.25"/>
<circle cx="1277.2" cy="563.55" r="4.85" fill="#fff" stroke="#000" stroke-width="1.25"/>
<circle cx="1262.18" cy="577.27" r="4.85" fill="#fff" stroke="#000" stroke-width="1.25"/>
<circle cx="1277.2" cy="578.56" r="4.85" fill="#fff" stroke="#000" stroke-width="1.25"/>
<line x1="1262.07" y1="552.67" x2="1277.83" y2="552.67" stroke="#111" stroke-width="0.99"/>
<line x1="1269.95" y1="552.67" x2="1269.95" y2="566.91" stroke="#111" stroke-width="0.99"/>
<line x1="1333.37" y1="833.8" x2="1333.37" y2="840.1" stroke="#000" stroke-width="3.3"/>
<line x1="1333.37" y1="657.26" x2="1333.37" y2="668.9" stroke="#111" stroke-width="1.1"/>
<line x1="1325.5" y1="657.26" x2="1341.25" y2="657.26" stroke="#111" stroke-width="1.1"/>
<circle cx="1325.09" cy="660.62" r="4.85" fill="#fff" stroke="#000" stroke-width="1.25"/>
<circle cx="1333.37" cy="660.62" r="4.85" fill="#fff" stroke="#000" stroke-width="1.25"/>
<circle cx="1342.43" cy="669.68" r="4.85" fill="#fff" stroke="#000" stroke-width="1.25"/>
<circle cx="1333.37" cy="685.21" r="4.85" fill="#fff" stroke="#000" stroke-width="1.25"/>
<line x1="1325.5" y1="657.26" x2="1341.25" y2="657.26" stroke="#111" stroke-width="0.99"/>
<line x1="1333.37" y1="657.26" x2="1333.37" y2="668.9" stroke="#111" stroke-width="0.99"/>
<line x1="1396.8" y1="833.8" x2="1396.8" y2="840.1" stroke="#000" stroke-width="3.3"/>
<line x1="1396.8" y1="605.48" x2="1396.8" y2="616.61" stroke="#111" stroke-width="1.1"/>
<line x1="1388.92" y1="605.48" x2="1404.67" y2="605.48" stroke="#111" stroke-width="1.1"/>
<circle cx="1396.8" cy="601.86" r="4.85" fill="#fff" stroke="#000" stroke-width="1.25"/>
<circle cx="1387.99" cy="613.25" r="4.85" fill="#fff" stroke="#000" stroke-width="1.25"/>
<circle cx="1396.8" cy="623.6" r="4.85" fill="#fff" stroke="#000" stroke-width="1.25"/>
<circle cx="1405.86" cy="625.67" r="4.85" fill="#fff" stroke="#000" stroke-width="1.25"/>
<line x1="1388.92" y1="605.48" x2="1404.67" y2="605.48" stroke="#111" stroke-width="0.99"/>
<line x1="1396.8" y1="605.48" x2="1396.8" y2="616.61" stroke="#111" stroke-width="0.99"/>
<text x="1334" y="507.3" font-size="30.8" text-anchor="middle">MKK1-ERK2</text>
<text x="1276.55" y="863.8" font-size="27" text-anchor="end" transform="rotate(-45 1276.55 863.8)">-</text>
<text x="1346.87" y="863.1" font-size="27" text-anchor="end" transform="rotate(-45 1346.87 863.1)">+ <tspan font-weight="bold">32</tspan><tspan font-style="italic">S</tspan></text>
<text x="1421.8" y="863.8" font-size="27" text-anchor="end" transform="rotate(-45 1421.8 863.8)">+ <tspan font-weight="bold">32</tspan><tspan font-style="italic">R</tspan></text>
<line x1="1273.3" y1="545.5" x2="1399" y2="545.5" stroke="#000" stroke-width="3.1" stroke-dasharray="6 5"/>
<line x1="1273.3" y1="556.3" x2="1334.7" y2="556.3" stroke="#000" stroke-width="3.1" stroke-dasharray="6 5"/>
<text x="1362.6" y="555.04" font-size="38.5" text-anchor="middle">***</text>
<text x="1312.4" y="588.04" font-size="38.5" text-anchor="middle">***</text>
<rect x="1530.14" y="607.55" width="30.3" height="226.25" fill="#000"/>
<rect x="1593.56" y="679.26" width="30.3" height="154.54" fill="#000"/>
<rect x="1657.24" y="603.15" width="30.3" height="230.65" fill="#000"/>
<rect x="1515" y="524.2" width="188.5" height="309.6" fill="none" stroke="#000" stroke-width="3.3"/>
<line x1="1508.5" y1="833.8" x2="1515" y2="833.8" stroke="#000" stroke-width="3.3"/>
<text x="1508" y="842.73" font-size="23" font-weight="bold" text-anchor="end">0</text>
<line x1="1511.4" y1="814.45" x2="1515" y2="814.45" stroke="#000" stroke-width="3.3"/>
<line x1="1508.5" y1="795.1" x2="1515" y2="795.1" stroke="#000" stroke-width="3.3"/>
<text x="1508" y="804.03" font-size="23" font-weight="bold" text-anchor="end">5000</text>
<line x1="1511.4" y1="775.75" x2="1515" y2="775.75" stroke="#000" stroke-width="3.3"/>
<line x1="1508.5" y1="756.4" x2="1515" y2="756.4" stroke="#000" stroke-width="3.3"/>
<text x="1508" y="765.33" font-size="23" font-weight="bold" text-anchor="end">10000</text>
<line x1="1511.4" y1="737.05" x2="1515" y2="737.05" stroke="#000" stroke-width="3.3"/>
<line x1="1508.5" y1="717.7" x2="1515" y2="717.7" stroke="#000" stroke-width="3.3"/>
<text x="1508" y="726.63" font-size="23" font-weight="bold" text-anchor="end">15000</text>
<line x1="1511.4" y1="698.35" x2="1515" y2="698.35" stroke="#000" stroke-width="3.3"/>
<line x1="1508.5" y1="679" x2="1515" y2="679" stroke="#000" stroke-width="3.3"/>
<text x="1508" y="687.93" font-size="23" font-weight="bold" text-anchor="end">20000</text>
<line x1="1511.4" y1="659.65" x2="1515" y2="659.65" stroke="#000" stroke-width="3.3"/>
<line x1="1508.5" y1="640.3" x2="1515" y2="640.3" stroke="#000" stroke-width="3.3"/>
<text x="1508" y="649.23" font-size="23" font-weight="bold" text-anchor="end">25000</text>
<line x1="1511.4" y1="620.95" x2="1515" y2="620.95" stroke="#000" stroke-width="3.3"/>
<line x1="1508.5" y1="601.6" x2="1515" y2="601.6" stroke="#000" stroke-width="3.3"/>
<text x="1508" y="610.53" font-size="23" font-weight="bold" text-anchor="end">30000</text>
<line x1="1511.4" y1="582.25" x2="1515" y2="582.25" stroke="#000" stroke-width="3.3"/>
<line x1="1508.5" y1="562.9" x2="1515" y2="562.9" stroke="#000" stroke-width="3.3"/>
<text x="1508" y="571.83" font-size="23" font-weight="bold" text-anchor="end">35000</text>
<line x1="1511.4" y1="543.55" x2="1515" y2="543.55" stroke="#000" stroke-width="3.3"/>
<line x1="1508.5" y1="524.2" x2="1515" y2="524.2" stroke="#000" stroke-width="3.3"/>
<text x="1508" y="533.13" font-size="23" font-weight="bold" text-anchor="end">40000</text>
<line x1="1545.29" y1="833.8" x2="1545.29" y2="840.1" stroke="#000" stroke-width="3.3"/>
<line x1="1545.29" y1="599.27" x2="1545.29" y2="607.55" stroke="#111" stroke-width="1.1"/>
<line x1="1537.41" y1="599.27" x2="1553.17" y2="599.27" stroke="#111" stroke-width="1.1"/>
<circle cx="1535.97" cy="599.79" r="4.85" fill="#fff" stroke="#000" stroke-width="1.25"/>
<circle cx="1541.67" cy="601.08" r="4.85" fill="#fff" stroke="#000" stroke-width="1.25"/>
<circle cx="1548.14" cy="613.51" r="4.85" fill="#fff" stroke="#000" stroke-width="1.25"/>
<circle cx="1554.09" cy="614.03" r="4.85" fill="#fff" stroke="#000" stroke-width="1.25"/>
<line x1="1537.41" y1="599.27" x2="1553.17" y2="599.27" stroke="#111" stroke-width="0.99"/>
<line x1="1545.29" y1="599.27" x2="1545.29" y2="607.55" stroke="#111" stroke-width="0.99"/>
<line x1="1608.71" y1="833.8" x2="1608.71" y2="840.1" stroke="#000" stroke-width="3.3"/>
<line x1="1608.71" y1="674.86" x2="1608.71" y2="679.26" stroke="#111" stroke-width="1.1"/>
<line x1="1600.84" y1="674.86" x2="1616.59" y2="674.86" stroke="#111" stroke-width="1.1"/>
<circle cx="1599.39" cy="675.38" r="4.85" fill="#fff" stroke="#000" stroke-width="1.25"/>
<circle cx="1605.87" cy="676.15" r="4.85" fill="#fff" stroke="#000" stroke-width="1.25"/>
<circle cx="1612.08" cy="676.15" r="4.85" fill="#fff" stroke="#000" stroke-width="1.25"/>
<circle cx="1618.03" cy="683.92" r="4.85" fill="#fff" stroke="#000" stroke-width="1.25"/>
<line x1="1600.84" y1="674.86" x2="1616.59" y2="674.86" stroke="#111" stroke-width="0.99"/>
<line x1="1608.71" y1="674.86" x2="1608.71" y2="679.26" stroke="#111" stroke-width="0.99"/>
<line x1="1672.39" y1="833.8" x2="1672.39" y2="840.1" stroke="#000" stroke-width="3.3"/>
<line x1="1672.39" y1="566.14" x2="1672.39" y2="603.15" stroke="#111" stroke-width="1.1"/>
<line x1="1664.52" y1="566.14" x2="1680.27" y2="566.14" stroke="#111" stroke-width="1.1"/>
<circle cx="1672.39" cy="558.37" r="4.85" fill="#fff" stroke="#000" stroke-width="1.25"/>
<circle cx="1672.39" cy="588.14" r="4.85" fill="#fff" stroke="#000" stroke-width="1.25"/>
<circle cx="1664.63" cy="625.16" r="4.85" fill="#fff" stroke="#000" stroke-width="1.25"/>
<circle cx="1679.64" cy="639.39" r="4.85" fill="#fff" stroke="#000" stroke-width="1.25"/>
<line x1="1664.52" y1="566.14" x2="1680.27" y2="566.14" stroke="#111" stroke-width="0.99"/>
<line x1="1672.39" y1="566.14" x2="1672.39" y2="603.15" stroke="#111" stroke-width="0.99"/>
<text x="1605.9" y="507.3" font-size="30.8" text-anchor="middle">MKK1-RSK1</text>
<text x="1549.59" y="863.8" font-size="27" text-anchor="end" transform="rotate(-45 1549.59 863.8)">-</text>
<text x="1616.51" y="863.1" font-size="27" text-anchor="end" transform="rotate(-45 1616.51 863.1)">+ <tspan font-weight="bold">32</tspan><tspan font-style="italic">S</tspan></text>
<text x="1694.09" y="863.8" font-size="27" text-anchor="end" transform="rotate(-45 1694.09 863.8)">+ <tspan font-weight="bold">32</tspan><tspan font-style="italic">R</tspan></text>
<line x1="1544.1" y1="545.5" x2="1670.1" y2="545.5" stroke="#000" stroke-width="3.1" stroke-dasharray="6 5"/>
<line x1="1544.1" y1="556.3" x2="1606" y2="556.3" stroke="#000" stroke-width="3.1" stroke-dasharray="6 5"/>
<text x="1630.5" y="543.8" font-size="26.3" text-anchor="middle">NS</text>
<text x="1576.1" y="589.04" font-size="38.5" text-anchor="middle">***</text>
<rect x="1806" y="551.12" width="30.3" height="282.68" fill="#000"/>
<rect x="1869.68" y="786.17" width="30.3" height="47.63" fill="#000"/>
<rect x="1933.36" y="635.25" width="30.3" height="198.55" fill="#000"/>
<rect x="1790.6" y="524.2" width="189" height="309.6" fill="none" stroke="#000" stroke-width="3.3"/>
<line x1="1784.1" y1="833.8" x2="1790.6" y2="833.8" stroke="#000" stroke-width="3.3"/>
<text x="1783.6" y="842.73" font-size="23" font-weight="bold" text-anchor="end">0</text>
<line x1="1787" y1="816.6" x2="1790.6" y2="816.6" stroke="#000" stroke-width="3.3"/>
<line x1="1784.1" y1="799.4" x2="1790.6" y2="799.4" stroke="#000" stroke-width="3.3"/>
<text x="1783.6" y="808.33" font-size="23" font-weight="bold" text-anchor="end">5000</text>
<line x1="1787" y1="782.2" x2="1790.6" y2="782.2" stroke="#000" stroke-width="3.3"/>
<line x1="1784.1" y1="765" x2="1790.6" y2="765" stroke="#000" stroke-width="3.3"/>
<text x="1783.6" y="773.93" font-size="23" font-weight="bold" text-anchor="end">10000</text>
<line x1="1787" y1="747.8" x2="1790.6" y2="747.8" stroke="#000" stroke-width="3.3"/>
<line x1="1784.1" y1="730.6" x2="1790.6" y2="730.6" stroke="#000" stroke-width="3.3"/>
<text x="1783.6" y="739.53" font-size="23" font-weight="bold" text-anchor="end">15000</text>
<line x1="1787" y1="713.4" x2="1790.6" y2="713.4" stroke="#000" stroke-width="3.3"/>
<line x1="1784.1" y1="696.2" x2="1790.6" y2="696.2" stroke="#000" stroke-width="3.3"/>
<text x="1783.6" y="705.13" font-size="23" font-weight="bold" text-anchor="end">20000</text>
<line x1="1787" y1="679" x2="1790.6" y2="679" stroke="#000" stroke-width="3.3"/>
<line x1="1784.1" y1="661.8" x2="1790.6" y2="661.8" stroke="#000" stroke-width="3.3"/>
<text x="1783.6" y="670.73" font-size="23" font-weight="bold" text-anchor="end">25000</text>
<line x1="1787" y1="644.6" x2="1790.6" y2="644.6" stroke="#000" stroke-width="3.3"/>
<line x1="1784.1" y1="627.4" x2="1790.6" y2="627.4" stroke="#000" stroke-width="3.3"/>
<text x="1783.6" y="636.33" font-size="23" font-weight="bold" text-anchor="end">30000</text>
<line x1="1787" y1="610.2" x2="1790.6" y2="610.2" stroke="#000" stroke-width="3.3"/>
<line x1="1784.1" y1="593" x2="1790.6" y2="593" stroke="#000" stroke-width="3.3"/>
<text x="1783.6" y="601.93" font-size="23" font-weight="bold" text-anchor="end">35000</text>
<line x1="1787" y1="575.8" x2="1790.6" y2="575.8" stroke="#000" stroke-width="3.3"/>
<line x1="1784.1" y1="558.6" x2="1790.6" y2="558.6" stroke="#000" stroke-width="3.3"/>
<text x="1783.6" y="567.53" font-size="23" font-weight="bold" text-anchor="end">40000</text>
<line x1="1787" y1="541.4" x2="1790.6" y2="541.4" stroke="#000" stroke-width="3.3"/>
<line x1="1784.1" y1="524.2" x2="1790.6" y2="524.2" stroke="#000" stroke-width="3.3"/>
<text x="1783.6" y="533.13" font-size="23" font-weight="bold" text-anchor="end">45000</text>
<line x1="1821.15" y1="833.8" x2="1821.15" y2="840.1" stroke="#000" stroke-width="3.3"/>
<line x1="1821.15" y1="548.01" x2="1821.15" y2="551.12" stroke="#111" stroke-width="1.1"/>
<line x1="1813.27" y1="548.01" x2="1829.03" y2="548.01" stroke="#111" stroke-width="1.1"/>
<circle cx="1812.61" cy="546.72" r="4.85" fill="#fff" stroke="#000" stroke-width="1.25"/>
<circle cx="1820.37" cy="549.31" r="4.85" fill="#fff" stroke="#000" stroke-width="1.25"/>
<circle cx="1824.77" cy="551.12" r="4.85" fill="#fff" stroke="#000" stroke-width="1.25"/>
<circle cx="1830.21" cy="555" r="4.85" fill="#fff" stroke="#000" stroke-width="1.25"/>
<line x1="1813.27" y1="548.01" x2="1829.03" y2="548.01" stroke="#111" stroke-width="0.99"/>
<line x1="1821.15" y1="548.01" x2="1821.15" y2="551.12" stroke="#111" stroke-width="0.99"/>
<line x1="1884.83" y1="833.8" x2="1884.83" y2="840.1" stroke="#000" stroke-width="3.3"/>
<line x1="1884.83" y1="777.89" x2="1884.83" y2="786.17" stroke="#111" stroke-width="1.1"/>
<line x1="1876.95" y1="777.89" x2="1892.71" y2="777.89" stroke="#111" stroke-width="1.1"/>
<circle cx="1884.83" cy="773.75" r="4.85" fill="#fff" stroke="#000" stroke-width="1.25"/>
<circle cx="1876.03" cy="788.76" r="4.85" fill="#fff" stroke="#000" stroke-width="1.25"/>
<circle cx="1884.83" cy="788.76" r="4.85" fill="#fff" stroke="#000" stroke-width="1.25"/>
<circle cx="1893.63" cy="791.87" r="4.85" fill="#fff" stroke="#000" stroke-width="1.25"/>
<line x1="1876.95" y1="777.89" x2="1892.71" y2="777.89" stroke="#111" stroke-width="0.99"/>
<line x1="1884.83" y1="777.89" x2="1884.83" y2="786.17" stroke="#111" stroke-width="0.99"/>
<line x1="1948.51" y1="833.8" x2="1948.51" y2="840.1" stroke="#000" stroke-width="3.3"/>
<line x1="1948.51" y1="607.55" x2="1948.51" y2="635.25" stroke="#111" stroke-width="1.1"/>
<line x1="1940.63" y1="607.55" x2="1956.39" y2="607.55" stroke="#111" stroke-width="1.1"/>
<circle cx="1948.51" cy="607.04" r="4.85" fill="#fff" stroke="#000" stroke-width="1.25"/>
<circle cx="1940.75" cy="630.33" r="4.85" fill="#fff" stroke="#000" stroke-width="1.25"/>
<circle cx="1956.28" cy="630.33" r="4.85" fill="#fff" stroke="#000" stroke-width="1.25"/>
<circle cx="1948.51" cy="672.27" r="4.85" fill="#fff" stroke="#000" stroke-width="1.25"/>
<line x1="1940.63" y1="607.55" x2="1956.39" y2="607.55" stroke="#111" stroke-width="0.99"/>
<line x1="1948.51" y1="607.55" x2="1948.51" y2="635.25" stroke="#111" stroke-width="0.99"/>
<text x="1890.3" y="507.3" font-size="30.8" text-anchor="middle">MKK1-MKP3</text>
<text x="1823.55" y="863.8" font-size="27" text-anchor="end" transform="rotate(-45 1823.55 863.8)">-</text>
<text x="1900.33" y="863.1" font-size="27" text-anchor="end" transform="rotate(-45 1900.33 863.1)">+ <tspan font-weight="bold">32</tspan><tspan font-style="italic">S</tspan></text>
<text x="1954.61" y="863.8" font-size="27" text-anchor="end" transform="rotate(-45 1954.61 863.8)">+ <tspan font-weight="bold">32</tspan><tspan font-style="italic">R</tspan></text>
<line x1="1837.9" y1="542.7" x2="1963.7" y2="542.7" stroke="#000" stroke-width="3.1" stroke-dasharray="6 5"/>
<line x1="1837.9" y1="549.5" x2="1899.9" y2="549.5" stroke="#000" stroke-width="3.1" stroke-dasharray="6 5"/>
<text x="1927.4" y="552.64" font-size="38.5" text-anchor="middle">***</text>
<text x="1871.9" y="582.44" font-size="38.5" text-anchor="middle">***</text>
<text x="-1.5" y="1028" font-size="53" font-weight="bold">b</text>
<text x="280.2" y="1077.7" font-size="27.2">PMA</text>
<rect x="164.5" y="1102.3" width="220.7" height="14.5" fill="#cccccc" stroke="#333" stroke-width="0.8"/>
<path d="M269.2 1067.6 C262 1075.5 252 1086 247.4 1092.4 C241 1101 236.3 1111 238.6 1114.4 C240.3 1116.8 250 1111 267.6 1103.8 L252.8 1130.6" fill="none" stroke="#ed1c24" stroke-width="2.7" stroke-linejoin="round" stroke-linecap="butt"/>
<polygon points="244.7,1142.3 248.1,1129.1 256.7,1133.5" fill="#ed1c24"/>
<text x="216" y="1176.4" font-size="34.2">PKC</text>
<line x1="228.7" y1="1185.8" x2="222.59" y2="1195.9" stroke="#000" stroke-width="1.6"/>
<polygon points="217.2,1204.8 219.51,1192.87 226.7,1197.22" fill="#000"/>
<line x1="212.5" y1="1218.1" x2="206.75" y2="1227.92" stroke="#000" stroke-width="1.6"/>
<polygon points="201.5,1236.9 203.63,1224.94 210.88,1229.18" fill="#000"/>
<line x1="191.4" y1="1250.5" x2="185.5" y2="1260.21" stroke="#000" stroke-width="1.6"/>
<polygon points="180.1,1269.1 182.43,1257.18 189.61,1261.54" fill="#000"/>
<line x1="249.5" y1="1185.5" x2="249.5" y2="1196.6" stroke="#000" stroke-width="1.6"/>
<polygon points="249.5,1207 245.3,1195.6 253.7,1195.6" fill="#000"/>
<line x1="249.5" y1="1216.1" x2="249.5" y2="1227.5" stroke="#000" stroke-width="1.6"/>
<polygon points="249.5,1237.9 245.3,1226.5 253.7,1226.5" fill="#000"/>
<line x1="249.5" y1="1249.4" x2="249.5" y2="1260.8" stroke="#000" stroke-width="1.6"/>
<polygon points="249.5,1271.2 245.3,1259.8 253.7,1259.8" fill="#000"/>
<line x1="271.6" y1="1185.2" x2="277.58" y2="1195.5" stroke="#000" stroke-width="1.6"/>
<polygon points="282.8,1204.5 273.45,1196.75 280.71,1192.53" fill="#000"/>
<line x1="287.3" y1="1217.5" x2="293.35" y2="1227.58" stroke="#000" stroke-width="1.6"/>
<polygon points="298.7,1236.5 289.23,1228.89 296.44,1224.56" fill="#000"/>
<line x1="303.2" y1="1250.1" x2="309.18" y2="1260.16" stroke="#000" stroke-width="1.6"/>
<polygon points="314.5,1269.1 305.06,1261.45 312.28,1257.16" fill="#000"/>
<text x="161.37" y="1300.74" font-size="26.5">ERK</text>
<text x="232.94" y="1300.74" font-size="26.5">p38</text>
<text x="296.55" y="1300.74" font-size="26.5">JNK</text>
<line x1="197.8" y1="1322.4" x2="203.85" y2="1338.05" stroke="#000" stroke-width="1.6"/>
<polygon points="208.4,1349.8 199.58,1338.63 207.41,1335.6" fill="#000"/>
<line x1="249.9" y1="1315.8" x2="249.9" y2="1335.2" stroke="#000" stroke-width="1.6"/>
<polygon points="249.9,1347.8 245.7,1334.2 254.1,1334.2" fill="#000"/>
<line x1="307.3" y1="1323.7" x2="295.63" y2="1341.05" stroke="#000" stroke-width="1.6"/>
<polygon points="288.6,1351.5 292.71,1337.87 299.68,1342.56" fill="#000"/>
<text x="371.77" y="1365.02" font-size="30.8">Luminescence</text>
<path d="M191.67 1372.68 C194.39 1357.99 224.31 1351.87 247.42 1351.87 C270.54 1351.87 300.46 1357.99 303.18 1372.68" fill="none" stroke="#000" stroke-width="1.8"/>
<path d="M218.19 1376.35 Q219.96 1376.76 219.96 1380.02 L219.96 1397.42 C219.96 1406.94 210.71 1408.57 203.91 1413.06 C197.11 1417.82 193.03 1421.22 183.51 1423.94 C171.28 1427.34 165.16 1432.78 162.44 1442.57" fill="none" stroke="#000" stroke-width="1.8"/>
<line x1="219.96" y1="1393.89" x2="225.12" y2="1393.89" stroke="#000" stroke-width="1.8"/>
<path d="M263.74 1375.67 Q265.51 1376.08 265.51 1379.34 L265.51 1396.74 C265.51 1406.26 256.26 1407.9 249.46 1412.38 C242.67 1417.14 238.59 1420.54 229.07 1423.26 C216.83 1426.66 210.71 1432.1 207.99 1441.89" fill="none" stroke="#000" stroke-width="1.8"/>
<line x1="265.51" y1="1393.21" x2="270.68" y2="1393.21" stroke="#000" stroke-width="1.8"/>
<text x="222.5" y="1401.8" font-size="25" font-weight="bold" fill="#ed1c24">P</text>
<text x="268.3" y="1401.8" font-size="25" font-weight="bold" fill="#ed1c24">P</text>
<path d="M61.09 1484.44 C61.88 1484.44 62.18 1483.49 62.97 1483.49 C70.09 1483.49 72.8 1502.7 79.92 1502.7 C89.64 1502.7 93.35 1484.62 103.08 1484.62 C115.73 1484.62 120.55 1503.08 133.2 1503.08 C138.34 1503.08 140.3 1503.08 145.44 1503.08" fill="none" stroke="#000" stroke-width="2.2" stroke-linecap="round"/>
<path d="M61.09 1485.19 C67.35 1492.9 75.61 1502.32 86.13 1502.32 C97.2 1502.32 101.42 1484.62 112.49 1484.62 C126.33 1484.62 137.2 1493.43 145.44 1500.63" fill="none" stroke="#000" stroke-width="2.2" stroke-linecap="round"/>
<path d="M226.41 1489.33 C230.88 1495.09 236.78 1502.14 244.29 1502.14 C250.62 1502.14 253.03 1488.58 259.36 1488.58 C270.03 1488.58 274.1 1506.84 284.77 1506.84 C295.06 1506.84 298.97 1489.9 309.25 1489.9 C321.91 1489.9 326.73 1507.78 339.38 1507.78 C349.26 1507.78 353.03 1494.6 362.91 1494.6 C368.85 1494.6 373.51 1502.68 377.04 1509.29" fill="none" stroke="#000" stroke-width="2.2" stroke-linecap="round"/>
<path d="M226.41 1497.43 C233.23 1499.72 242.24 1502.51 253.71 1502.51 C260.43 1502.51 262.99 1488.58 269.71 1488.58 C280.39 1488.58 284.45 1506.84 295.13 1506.84 C305.41 1506.84 309.33 1489.9 319.61 1489.9 C332.26 1489.9 337.08 1507.78 349.73 1507.78 C359.62 1507.78 363.39 1494.6 373.27 1494.6 C379.44 1494.6 384.29 1503.1 387.96 1510.04" fill="none" stroke="#000" stroke-width="2.2" stroke-linecap="round"/>
<rect x="143.2" y="1485.8" width="85.1" height="21" fill="#fff" stroke="#000" stroke-width="2.0"/>
<line x1="185.9" y1="1485.8" x2="185.9" y2="1506.8" stroke="#000" stroke-width="3.4"/>
<ellipse cx="163.9" cy="1495.3" rx="10.7" ry="51.7" fill="#fff" stroke="#6b1010" stroke-width="2.7"/>
<ellipse cx="206.6" cy="1495.3" rx="10.7" ry="51.7" fill="#fff" stroke="#1a9aa0" stroke-width="2.7"/>
<text x="76.82" y="1436.66" font-size="26.4" fill="#6b1010">c-Jun</text>
<text x="76.82" y="1466.58" font-size="26.4" fill="#6b1010">ATF</text>
<text x="77.28" y="1534.48" font-size="26.4" fill="#1a9aa0">c-Fos</text>
<path d="M143.2 1546.4 L143.2 1558.6 L230.2 1558.6 L230.2 1546.4" fill="none" stroke="#000" stroke-width="1.9" stroke-dasharray="1.9 1.9"/>
<text x="164.97" y="1593.86" font-size="22.5">AP-1</text>
<line x1="281.4" y1="1400.8" x2="304.33" y2="1446.09" stroke="#000" stroke-width="1.8" stroke-dasharray="2.2 1.6"/>
<polygon points="309.3,1455.9 300.04,1446.02 306.82,1442.59" fill="#000"/>
<circle cx="308.3" cy="1421.6" r="10.3" fill="#fff" stroke="#000" stroke-width="1.9" stroke-dasharray="2.1 2.0"/>
<text x="308.3" y="1429" font-size="23.5" text-anchor="middle">+</text>
<path d="M308.2 1481.7 L308.2 1467.6 L317 1467.6" fill="none" stroke="#000" stroke-width="1.9"/>
<polygon points="328.3,1467.6 316.1,1463.4 316.1,1471.8" fill="#000"/>
<line x1="331.5" y1="1467.6" x2="340" y2="1467.6" stroke="#000" stroke-width="1.9"/>
<polygon points="351.4,1467.6 339.2,1463.4 339.2,1471.8" fill="#000"/>
<line x1="374.87" y1="1404.05" x2="374.87" y2="1417.35" stroke="#ed1c24" stroke-width="1.7"/>
<line x1="374.87" y1="1453.45" x2="374.87" y2="1467.05" stroke="#ed1c24" stroke-width="1.7"/>
<line x1="348.67" y1="1419.45" x2="362.27" y2="1425.55" stroke="#ed1c24" stroke-width="1.7"/>
<line x1="401.07" y1="1419.45" x2="387.47" y2="1425.55" stroke="#ed1c24" stroke-width="1.7"/>
<line x1="348.67" y1="1454.75" x2="360.87" y2="1445.95" stroke="#ed1c24" stroke-width="1.7"/>
<line x1="401.07" y1="1454.75" x2="388.87" y2="1445.95" stroke="#ed1c24" stroke-width="1.7"/>
<ellipse cx="374.87" cy="1435.05" rx="10.1" ry="14.2" fill="#fff" stroke="#000" stroke-width="1.6"/>
<text x="379.57" y="1435.35" font-size="12.6" text-anchor="middle" transform="rotate(-90 379.57 1435.35)">Luc</text>
<line x1="434.25" y1="1371.14" x2="434.25" y2="1384.44" stroke="#ed1c24" stroke-width="1.7"/>
<line x1="434.25" y1="1420.54" x2="434.25" y2="1434.14" stroke="#ed1c24" stroke-width="1.7"/>
<line x1="408.05" y1="1386.54" x2="421.65" y2="1392.64" stroke="#ed1c24" stroke-width="1.7"/>
<line x1="460.45" y1="1386.54" x2="446.85" y2="1392.64" stroke="#ed1c24" stroke-width="1.7"/>
<line x1="408.05" y1="1421.84" x2="420.25" y2="1413.04" stroke="#ed1c24" stroke-width="1.7"/>
<line x1="460.45" y1="1421.84" x2="448.25" y2="1413.04" stroke="#ed1c24" stroke-width="1.7"/>
<ellipse cx="434.25" cy="1402.14" rx="10.1" ry="14.2" fill="#fff" stroke="#000" stroke-width="1.6"/>
<text x="438.95" y="1402.44" font-size="12.6" text-anchor="middle" transform="rotate(-90 438.95 1402.44)">Luc</text>
<line x1="429.41" y1="1447.78" x2="429.41" y2="1461.08" stroke="#ed1c24" stroke-width="1.7"/>
<line x1="429.41" y1="1497.18" x2="429.41" y2="1510.78" stroke="#ed1c24" stroke-width="1.7"/>
<line x1="403.21" y1="1463.18" x2="416.81" y2="1469.28" stroke="#ed1c24" stroke-width="1.7"/>
<line x1="455.61" y1="1463.18" x2="442.01" y2="1469.28" stroke="#ed1c24" stroke-width="1.7"/>
<line x1="403.21" y1="1498.48" x2="415.41" y2="1489.68" stroke="#ed1c24" stroke-width="1.7"/>
<line x1="455.61" y1="1498.48" x2="443.41" y2="1489.68" stroke="#ed1c24" stroke-width="1.7"/>
<ellipse cx="429.41" cy="1478.78" rx="10.1" ry="14.2" fill="#fff" stroke="#000" stroke-width="1.6"/>
<text x="434.11" y="1479.08" font-size="12.6" text-anchor="middle" transform="rotate(-90 434.11 1479.08)">Luc</text>
<rect x="744.42" y="1366.57" width="46.1" height="36.43" fill="#d3d3d3" stroke="#000" stroke-width="2.5"/>
<rect x="831.65" y="1116.17" width="46.1" height="286.83" fill="#d3d3d3" stroke="#000" stroke-width="2.5"/>
<rect x="917.95" y="1301.62" width="48.6" height="101.38" fill="#000"/>
<rect x="1005.18" y="1333" width="48.6" height="70" fill="#000"/>
<rect x="1092.41" y="1329.23" width="48.6" height="73.77" fill="#000"/>
<rect x="717.9" y="1056.9" width="449.6" height="346.1" fill="none" stroke="#000" stroke-width="4"/>
<line x1="710.02" y1="1403" x2="717.9" y2="1403" stroke="#000" stroke-width="4"/>
<text x="709.42" y="1412.47" font-size="24.5" font-weight="bold" text-anchor="end">0.0</text>
<line x1="710.02" y1="1345.32" x2="717.9" y2="1345.32" stroke="#000" stroke-width="4"/>
<text x="709.42" y="1354.79" font-size="24.5" font-weight="bold" text-anchor="end">0.2</text>
<line x1="710.02" y1="1287.63" x2="717.9" y2="1287.63" stroke="#000" stroke-width="4"/>
<text x="709.42" y="1297.1" font-size="24.5" font-weight="bold" text-anchor="end">0.4</text>
<line x1="710.02" y1="1229.95" x2="717.9" y2="1229.95" stroke="#000" stroke-width="4"/>
<text x="709.42" y="1239.42" font-size="24.5" font-weight="bold" text-anchor="end">0.6</text>
<line x1="710.02" y1="1172.27" x2="717.9" y2="1172.27" stroke="#000" stroke-width="4"/>
<text x="709.42" y="1181.74" font-size="24.5" font-weight="bold" text-anchor="end">0.8</text>
<line x1="710.02" y1="1114.58" x2="717.9" y2="1114.58" stroke="#000" stroke-width="4"/>
<text x="709.42" y="1124.05" font-size="24.5" font-weight="bold" text-anchor="end">1.0</text>
<line x1="710.02" y1="1056.9" x2="717.9" y2="1056.9" stroke="#000" stroke-width="4"/>
<text x="709.42" y="1066.37" font-size="24.5" font-weight="bold" text-anchor="end">1.2</text>
<line x1="767.47" y1="1403" x2="767.47" y2="1410.64" stroke="#000" stroke-width="4"/>
<line x1="767.47" y1="1354.96" x2="767.47" y2="1374.41" stroke="#111" stroke-width="1.4"/>
<line x1="754.84" y1="1354.96" x2="780.11" y2="1354.96" stroke="#111" stroke-width="1.4"/>
<line x1="754.84" y1="1374.41" x2="780.11" y2="1374.41" stroke="#111" stroke-width="1.4"/>
<circle cx="767.47" cy="1354.33" r="4.85" fill="#fff" stroke="#000" stroke-width="1.25"/>
<circle cx="754.92" cy="1365.32" r="4.85" fill="#fff" stroke="#000" stroke-width="1.25"/>
<circle cx="780.03" cy="1373.79" r="4.85" fill="#fff" stroke="#000" stroke-width="1.25"/>
<line x1="754.84" y1="1354.96" x2="780.11" y2="1354.96" stroke="#111" stroke-width="1.26"/>
<line x1="767.47" y1="1354.96" x2="767.47" y2="1374.41" stroke="#111" stroke-width="1.26"/>
<line x1="754.84" y1="1374.41" x2="780.11" y2="1374.41" stroke="#111" stroke-width="1.26"/>
<line x1="854.7" y1="1403" x2="854.7" y2="1410.64" stroke="#000" stroke-width="4"/>
<line x1="854.7" y1="1097.67" x2="854.7" y2="1131.55" stroke="#111" stroke-width="1.4"/>
<line x1="842.07" y1="1097.67" x2="867.34" y2="1097.67" stroke="#111" stroke-width="1.4"/>
<line x1="842.07" y1="1131.55" x2="867.34" y2="1131.55" stroke="#111" stroke-width="1.4"/>
<circle cx="842.15" cy="1101.74" r="4.85" fill="#fff" stroke="#000" stroke-width="1.25"/>
<circle cx="867.25" cy="1108.65" r="4.85" fill="#fff" stroke="#000" stroke-width="1.25"/>
<circle cx="854.7" cy="1133.75" r="4.85" fill="#fff" stroke="#000" stroke-width="1.25"/>
<line x1="842.07" y1="1097.67" x2="867.34" y2="1097.67" stroke="#111" stroke-width="1.26"/>
<line x1="854.7" y1="1097.67" x2="854.7" y2="1131.55" stroke="#111" stroke-width="1.26"/>
<line x1="842.07" y1="1131.55" x2="867.34" y2="1131.55" stroke="#111" stroke-width="1.26"/>
<line x1="942.25" y1="1403" x2="942.25" y2="1410.64" stroke="#000" stroke-width="4"/>
<line x1="942.25" y1="1294.4" x2="942.25" y2="1301.62" stroke="#111" stroke-width="1.4"/>
<line x1="929.61" y1="1294.4" x2="954.88" y2="1294.4" stroke="#111" stroke-width="1.4"/>
<circle cx="925.3" cy="1293.15" r="4.85" fill="#fff" stroke="#000" stroke-width="1.25"/>
<circle cx="942.25" cy="1304.13" r="4.85" fill="#fff" stroke="#000" stroke-width="1.25"/>
<circle cx="958.25" cy="1307.27" r="4.85" fill="#fff" stroke="#000" stroke-width="1.25"/>
<line x1="929.61" y1="1294.4" x2="954.88" y2="1294.4" stroke="#111" stroke-width="1.26"/>
<line x1="942.25" y1="1294.4" x2="942.25" y2="1301.62" stroke="#111" stroke-width="1.26"/>
<line x1="1029.48" y1="1403" x2="1029.48" y2="1410.64" stroke="#000" stroke-width="4"/>
<line x1="1029.48" y1="1316.37" x2="1029.48" y2="1333" stroke="#111" stroke-width="1.4"/>
<line x1="1016.84" y1="1316.37" x2="1042.11" y2="1316.37" stroke="#111" stroke-width="1.4"/>
<circle cx="1029.48" cy="1314.17" r="4.85" fill="#fff" stroke="#000" stroke-width="1.25"/>
<circle cx="1016.93" cy="1336.13" r="4.85" fill="#fff" stroke="#000" stroke-width="1.25"/>
<circle cx="1042.03" cy="1345.55" r="4.85" fill="#fff" stroke="#000" stroke-width="1.25"/>
<line x1="1016.84" y1="1316.37" x2="1042.11" y2="1316.37" stroke="#111" stroke-width="1.26"/>
<line x1="1029.48" y1="1316.37" x2="1029.48" y2="1333" stroke="#111" stroke-width="1.26"/>
<line x1="1116.71" y1="1403" x2="1116.71" y2="1410.64" stroke="#000" stroke-width="4"/>
<line x1="1116.71" y1="1311.97" x2="1116.71" y2="1329.23" stroke="#111" stroke-width="1.4"/>
<line x1="1104.07" y1="1311.97" x2="1129.34" y2="1311.97" stroke="#111" stroke-width="1.4"/>
<circle cx="1116.71" cy="1311.97" r="4.85" fill="#fff" stroke="#000" stroke-width="1.25"/>
<circle cx="1116.71" cy="1328.29" r="4.85" fill="#fff" stroke="#000" stroke-width="1.25"/>
<circle cx="1116.71" cy="1346.49" r="4.85" fill="#fff" stroke="#000" stroke-width="1.25"/>
<line x1="1104.07" y1="1311.97" x2="1129.34" y2="1311.97" stroke="#111" stroke-width="1.26"/>
<line x1="1116.71" y1="1311.97" x2="1116.71" y2="1329.23" stroke="#111" stroke-width="1.26"/>
<text x="667" y="1224" font-size="30.8" text-anchor="middle" transform="rotate(-90 667 1224)">Norm. luminescence</text>
<text transform="translate(764.8 1427.99) scale(1.3 1)" font-size="27" text-anchor="middle">-</text>
<text x="840.09" y="1408.96" font-size="26.8" transform="rotate(90 840.09 1408.96)">+ PMA</text>
<text x="926.89" y="1408.96" font-size="26.8" transform="rotate(90 926.89 1408.96)">+ p38i</text>
<text x="1013.59" y="1408.96" font-size="26.8" transform="rotate(90 1013.59 1408.96)">+ ERKi</text>
<text x="1119.69" y="1408.96" font-size="26.8" transform="rotate(90 1119.69 1408.96)">+ ERKi</text>
<text x="1091.1" y="1416" font-size="26.8" transform="rotate(90 1091.1 1416)">&amp; p38i</text>
<text x="1118" y="1021.9" font-size="37.6">HEK293/AP-1 Reporter</text>
<line x1="1453.4" y1="1060.9" x2="1453.4" y2="1399.6" stroke="#999" stroke-width="0.7"/>
<line x1="1626" y1="1060.9" x2="1626" y2="1399.6" stroke="#999" stroke-width="0.7"/>
<line x1="1799.2" y1="1060.9" x2="1799.2" y2="1399.6" stroke="#999" stroke-width="0.7"/>
<rect x="1351.99" y="1368.48" width="30.4" height="31.12" fill="#d3d3d3" stroke="#000" stroke-width="3"/>
<rect x="1409.62" y="1120.07" width="30.4" height="279.53" fill="#d3d3d3" stroke="#000" stroke-width="3"/>
<rect x="1465.75" y="1149.17" width="33.4" height="250.43" fill="#000"/>
<rect x="1523.38" y="1215.95" width="33.4" height="183.65" fill="#000"/>
<rect x="1581.01" y="1305.37" width="33.4" height="94.23" fill="#000"/>
<rect x="1639.04" y="1184.94" width="33.4" height="214.66" fill="#000"/>
<rect x="1697.07" y="1281.13" width="33.4" height="118.47" fill="#000"/>
<rect x="1754.7" y="1370.56" width="33.4" height="29.04" fill="#000"/>
<rect x="1812.33" y="1125.33" width="33.4" height="274.27" fill="#000"/>
<rect x="1869.96" y="1202.03" width="33.4" height="197.57" fill="#000"/>
<rect x="1927.99" y="1359.83" width="33.4" height="39.77" fill="#000"/>
<rect x="1333.4" y="1060.9" width="645.9" height="338.7" fill="none" stroke="#000" stroke-width="4"/>
<line x1="1325.52" y1="1399.6" x2="1333.4" y2="1399.6" stroke="#000" stroke-width="4"/>
<text x="1324.92" y="1409.43" font-size="25.5" font-weight="bold" text-anchor="end">0.0</text>
<line x1="1325.52" y1="1343.15" x2="1333.4" y2="1343.15" stroke="#000" stroke-width="4"/>
<text x="1324.92" y="1352.98" font-size="25.5" font-weight="bold" text-anchor="end">0.2</text>
<line x1="1325.52" y1="1286.7" x2="1333.4" y2="1286.7" stroke="#000" stroke-width="4"/>
<text x="1324.92" y="1296.53" font-size="25.5" font-weight="bold" text-anchor="end">0.4</text>
<line x1="1325.52" y1="1230.25" x2="1333.4" y2="1230.25" stroke="#000" stroke-width="4"/>
<text x="1324.92" y="1240.08" font-size="25.5" font-weight="bold" text-anchor="end">0.6</text>
<line x1="1325.52" y1="1173.8" x2="1333.4" y2="1173.8" stroke="#000" stroke-width="4"/>
<text x="1324.92" y="1183.63" font-size="25.5" font-weight="bold" text-anchor="end">0.8</text>
<line x1="1325.52" y1="1117.35" x2="1333.4" y2="1117.35" stroke="#000" stroke-width="4"/>
<text x="1324.92" y="1127.18" font-size="25.5" font-weight="bold" text-anchor="end">1.0</text>
<line x1="1325.52" y1="1060.9" x2="1333.4" y2="1060.9" stroke="#000" stroke-width="4"/>
<text x="1324.92" y="1070.73" font-size="25.5" font-weight="bold" text-anchor="end">1.2</text>
<line x1="1367.19" y1="1399.6" x2="1367.19" y2="1407.24" stroke="#000" stroke-width="4"/>
<line x1="1367.19" y1="1361.02" x2="1367.19" y2="1372.94" stroke="#111" stroke-width="1.6"/>
<line x1="1358.5" y1="1361.02" x2="1375.87" y2="1361.02" stroke="#111" stroke-width="1.6"/>
<line x1="1358.5" y1="1372.94" x2="1375.87" y2="1372.94" stroke="#111" stroke-width="1.6"/>
<circle cx="1357.25" cy="1360.22" r="5.8" fill="#fff" stroke="#000" stroke-width="1.45"/>
<circle cx="1367.19" cy="1368.97" r="5.8" fill="#fff" stroke="#000" stroke-width="1.45"/>
<circle cx="1377.12" cy="1369.76" r="5.8" fill="#fff" stroke="#000" stroke-width="1.45"/>
<line x1="1358.5" y1="1361.02" x2="1375.87" y2="1361.02" stroke="#111" stroke-width="1.44"/>
<line x1="1367.19" y1="1361.02" x2="1367.19" y2="1372.94" stroke="#111" stroke-width="1.44"/>
<line x1="1358.5" y1="1372.94" x2="1375.87" y2="1372.94" stroke="#111" stroke-width="1.44"/>
<line x1="1424.82" y1="1399.6" x2="1424.82" y2="1407.24" stroke="#000" stroke-width="4"/>
<line x1="1424.82" y1="1083.59" x2="1424.82" y2="1151.16" stroke="#111" stroke-width="1.6"/>
<line x1="1416.13" y1="1083.59" x2="1433.5" y2="1083.59" stroke="#111" stroke-width="1.6"/>
<line x1="1416.13" y1="1151.16" x2="1433.5" y2="1151.16" stroke="#111" stroke-width="1.6"/>
<circle cx="1424.82" cy="1083.59" r="5.8" fill="#fff" stroke="#000" stroke-width="1.45"/>
<circle cx="1424.82" cy="1117.38" r="5.8" fill="#fff" stroke="#000" stroke-width="1.45"/>
<circle cx="1424.82" cy="1151.16" r="5.8" fill="#fff" stroke="#000" stroke-width="1.45"/>
<line x1="1416.13" y1="1083.59" x2="1433.5" y2="1083.59" stroke="#111" stroke-width="1.44"/>
<line x1="1424.82" y1="1083.59" x2="1424.82" y2="1151.16" stroke="#111" stroke-width="1.44"/>
<line x1="1416.13" y1="1151.16" x2="1433.5" y2="1151.16" stroke="#111" stroke-width="1.44"/>
<line x1="1482.45" y1="1399.6" x2="1482.45" y2="1407.24" stroke="#000" stroke-width="4"/>
<line x1="1482.45" y1="1099.49" x2="1482.45" y2="1149.17" stroke="#111" stroke-width="1.6"/>
<line x1="1473.76" y1="1099.49" x2="1491.13" y2="1099.49" stroke="#111" stroke-width="1.6"/>
<circle cx="1482.45" cy="1099.49" r="5.8" fill="#fff" stroke="#000" stroke-width="1.45"/>
<circle cx="1482.45" cy="1149.17" r="5.8" fill="#fff" stroke="#000" stroke-width="1.45"/>
<circle cx="1482.45" cy="1196.07" r="5.8" fill="#fff" stroke="#000" stroke-width="1.45"/>
<line x1="1473.76" y1="1099.49" x2="1491.13" y2="1099.49" stroke="#111" stroke-width="1.44"/>
<line x1="1482.45" y1="1099.49" x2="1482.45" y2="1149.17" stroke="#111" stroke-width="1.44"/>
<line x1="1540.08" y1="1399.6" x2="1540.08" y2="1407.24" stroke="#000" stroke-width="4"/>
<line x1="1540.08" y1="1171.03" x2="1540.08" y2="1215.95" stroke="#111" stroke-width="1.6"/>
<line x1="1531.4" y1="1171.03" x2="1548.76" y2="1171.03" stroke="#111" stroke-width="1.6"/>
<circle cx="1540.08" cy="1176.2" r="5.8" fill="#fff" stroke="#000" stroke-width="1.45"/>
<circle cx="1540.08" cy="1208" r="5.8" fill="#fff" stroke="#000" stroke-width="1.45"/>
<circle cx="1540.08" cy="1261.65" r="5.8" fill="#fff" stroke="#000" stroke-width="1.45"/>
<line x1="1531.4" y1="1171.03" x2="1548.76" y2="1171.03" stroke="#111" stroke-width="1.44"/>
<line x1="1540.08" y1="1171.03" x2="1540.08" y2="1215.95" stroke="#111" stroke-width="1.44"/>
<line x1="1597.71" y1="1399.6" x2="1597.71" y2="1407.24" stroke="#000" stroke-width="4"/>
<line x1="1597.71" y1="1268.41" x2="1597.71" y2="1305.37" stroke="#111" stroke-width="1.6"/>
<line x1="1589.03" y1="1268.41" x2="1606.39" y2="1268.41" stroke="#111" stroke-width="1.6"/>
<circle cx="1589.76" cy="1281.13" r="5.8" fill="#fff" stroke="#000" stroke-width="1.45"/>
<circle cx="1606.45" cy="1286.3" r="5.8" fill="#fff" stroke="#000" stroke-width="1.45"/>
<circle cx="1597.71" cy="1347.9" r="5.8" fill="#fff" stroke="#000" stroke-width="1.45"/>
<line x1="1589.03" y1="1268.41" x2="1606.39" y2="1268.41" stroke="#111" stroke-width="1.44"/>
<line x1="1597.71" y1="1268.41" x2="1597.71" y2="1305.37" stroke="#111" stroke-width="1.44"/>
<line x1="1655.74" y1="1399.6" x2="1655.74" y2="1407.24" stroke="#000" stroke-width="4"/>
<line x1="1655.74" y1="1159.9" x2="1655.74" y2="1184.94" stroke="#111" stroke-width="1.6"/>
<line x1="1647.06" y1="1159.9" x2="1664.42" y2="1159.9" stroke="#111" stroke-width="1.6"/>
<circle cx="1655.74" cy="1157.12" r="5.8" fill="#fff" stroke="#000" stroke-width="1.45"/>
<circle cx="1647.39" cy="1194.88" r="5.8" fill="#fff" stroke="#000" stroke-width="1.45"/>
<circle cx="1664.48" cy="1202.83" r="5.8" fill="#fff" stroke="#000" stroke-width="1.45"/>
<line x1="1647.06" y1="1159.9" x2="1664.42" y2="1159.9" stroke="#111" stroke-width="1.44"/>
<line x1="1655.74" y1="1159.9" x2="1655.74" y2="1184.94" stroke="#111" stroke-width="1.44"/>
<line x1="1713.77" y1="1399.6" x2="1713.77" y2="1407.24" stroke="#000" stroke-width="4"/>
<line x1="1713.77" y1="1269.21" x2="1713.77" y2="1281.13" stroke="#111" stroke-width="1.6"/>
<line x1="1705.08" y1="1269.21" x2="1722.45" y2="1269.21" stroke="#111" stroke-width="1.6"/>
<circle cx="1713.77" cy="1268.41" r="5.8" fill="#fff" stroke="#000" stroke-width="1.45"/>
<circle cx="1705.02" cy="1285.5" r="5.8" fill="#fff" stroke="#000" stroke-width="1.45"/>
<circle cx="1722.11" cy="1286.3" r="5.8" fill="#fff" stroke="#000" stroke-width="1.45"/>
<line x1="1705.08" y1="1269.21" x2="1722.45" y2="1269.21" stroke="#111" stroke-width="1.44"/>
<line x1="1713.77" y1="1269.21" x2="1713.77" y2="1281.13" stroke="#111" stroke-width="1.44"/>
<line x1="1771.4" y1="1399.6" x2="1771.4" y2="1407.24" stroke="#000" stroke-width="4"/>
<line x1="1771.4" y1="1367.77" x2="1771.4" y2="1370.56" stroke="#111" stroke-width="1.6"/>
<line x1="1762.72" y1="1367.77" x2="1780.08" y2="1367.77" stroke="#111" stroke-width="1.6"/>
<circle cx="1761.86" cy="1368.57" r="5.8" fill="#fff" stroke="#000" stroke-width="1.45"/>
<circle cx="1771.4" cy="1369.76" r="5.8" fill="#fff" stroke="#000" stroke-width="1.45"/>
<circle cx="1781.34" cy="1371.75" r="5.8" fill="#fff" stroke="#000" stroke-width="1.45"/>
<line x1="1762.72" y1="1367.77" x2="1780.08" y2="1367.77" stroke="#111" stroke-width="1.44"/>
<line x1="1771.4" y1="1367.77" x2="1771.4" y2="1370.56" stroke="#111" stroke-width="1.44"/>
<line x1="1829.03" y1="1399.6" x2="1829.03" y2="1407.24" stroke="#000" stroke-width="4"/>
<line x1="1829.03" y1="1116.18" x2="1829.03" y2="1125.33" stroke="#111" stroke-width="1.6"/>
<line x1="1820.35" y1="1116.18" x2="1837.71" y2="1116.18" stroke="#111" stroke-width="1.6"/>
<circle cx="1819.49" cy="1115.39" r="5.8" fill="#fff" stroke="#000" stroke-width="1.45"/>
<circle cx="1829.03" cy="1127.31" r="5.8" fill="#fff" stroke="#000" stroke-width="1.45"/>
<circle cx="1838.57" cy="1129.3" r="5.8" fill="#fff" stroke="#000" stroke-width="1.45"/>
<line x1="1820.35" y1="1116.18" x2="1837.71" y2="1116.18" stroke="#111" stroke-width="1.44"/>
<line x1="1829.03" y1="1116.18" x2="1829.03" y2="1125.33" stroke="#111" stroke-width="1.44"/>
<line x1="1886.66" y1="1399.6" x2="1886.66" y2="1407.24" stroke="#000" stroke-width="4"/>
<line x1="1886.66" y1="1191.7" x2="1886.66" y2="1202.03" stroke="#111" stroke-width="1.6"/>
<line x1="1877.98" y1="1191.7" x2="1895.35" y2="1191.7" stroke="#111" stroke-width="1.6"/>
<circle cx="1886.66" cy="1190.91" r="5.8" fill="#fff" stroke="#000" stroke-width="1.45"/>
<circle cx="1877.92" cy="1202.83" r="5.8" fill="#fff" stroke="#000" stroke-width="1.45"/>
<circle cx="1895.01" cy="1211.97" r="5.8" fill="#fff" stroke="#000" stroke-width="1.45"/>
<line x1="1877.98" y1="1191.7" x2="1895.35" y2="1191.7" stroke="#111" stroke-width="1.44"/>
<line x1="1886.66" y1="1191.7" x2="1886.66" y2="1202.03" stroke="#111" stroke-width="1.44"/>
<line x1="1944.69" y1="1399.6" x2="1944.69" y2="1407.24" stroke="#000" stroke-width="4"/>
<line x1="1944.69" y1="1357.04" x2="1944.69" y2="1359.83" stroke="#111" stroke-width="1.6"/>
<line x1="1936.01" y1="1357.04" x2="1953.37" y2="1357.04" stroke="#111" stroke-width="1.6"/>
<circle cx="1934.75" cy="1356.65" r="5.8" fill="#fff" stroke="#000" stroke-width="1.45"/>
<circle cx="1944.69" cy="1359.83" r="5.8" fill="#fff" stroke="#000" stroke-width="1.45"/>
<circle cx="1954.23" cy="1361.81" r="5.8" fill="#fff" stroke="#000" stroke-width="1.45"/>
<line x1="1936.01" y1="1357.04" x2="1953.37" y2="1357.04" stroke="#111" stroke-width="1.44"/>
<line x1="1944.69" y1="1357.04" x2="1944.69" y2="1359.83" stroke="#111" stroke-width="1.44"/>
<text x="1275" y="1224" font-size="30.8" text-anchor="middle" transform="rotate(-90 1275 1224)">Norm. luminescence</text>
<text transform="translate(1367.6 1428.6) scale(1.3 1)" font-size="27" text-anchor="middle">-</text>
<text x="1482.8" y="1431.4" font-size="26.8" text-anchor="middle">1</text>
<text x="1540.5" y="1431.4" font-size="26.8" text-anchor="middle">3</text>
<text x="1599.2" y="1431.4" font-size="26.8" text-anchor="middle">10</text>
<text x="1656" y="1431.4" font-size="26.8" text-anchor="middle">1</text>
<text x="1711.8" y="1431.4" font-size="26.8" text-anchor="middle">3</text>
<text x="1773" y="1431.4" font-size="26.8" text-anchor="middle">10</text>
<text x="1830.7" y="1431.4" font-size="26.8" text-anchor="middle">1</text>
<text x="1884.4" y="1431.4" font-size="26.8" text-anchor="middle">3</text>
<text x="1936.2" y="1431.4" font-size="26.8" text-anchor="middle">10</text>
<text x="1417.62" y="1412.18" font-size="26.4" transform="rotate(90 1417.62 1412.18)">+ PMA</text>
<text x="1963" y="1431.4" font-size="26.8">μM</text>
<text x="1545.4" y="1470.3" font-size="30.7" text-anchor="middle"><tspan font-weight="bold">6</tspan><tspan font-style="italic">R,R</tspan></text>
<text x="1713.7" y="1470.3" font-size="30.7" text-anchor="middle"><tspan font-weight="bold">32</tspan><tspan font-style="italic">S</tspan></text>
<text x="1883.6" y="1470.3" font-size="30.7" text-anchor="middle"><tspan font-weight="bold">32</tspan><tspan font-style="italic">R</tspan></text>
<line x1="1414.1" y1="1077.9" x2="1531" y2="1077.9" stroke="#000" stroke-width="3.4" stroke-dasharray="6 5"/>
<text x="1533.8" y="1106.44" font-size="38.5" text-anchor="middle">*</text>
<line x1="1414.1" y1="1110.4" x2="1586.7" y2="1110.4" stroke="#000" stroke-width="3.4" stroke-dasharray="6 5"/>
<text x="1591.7" y="1138.54" font-size="38.5" text-anchor="middle">**</text>
<line x1="1657.3" y1="1099" x2="1830.2" y2="1099" stroke="#000" stroke-width="3.4" stroke-dasharray="6 5"/>
<text x="1750.5" y="1105.84" font-size="38.5" text-anchor="middle">*</text>
<line x1="1712" y1="1175.2" x2="1884.4" y2="1175.2" stroke="#000" stroke-width="3.4" stroke-dasharray="6 5"/>
<text x="1754.6" y="1181.84" font-size="38.5" text-anchor="middle">***</text>
<line x1="1766.3" y1="1338" x2="1938.6" y2="1338" stroke="#000" stroke-width="3.4" stroke-dasharray="6 5"/>
<text x="1765.9" y="1345.94" font-size="38.5" text-anchor="middle">**</text>
<rect x="612.73" y="1883.39" width="30.5" height="33.51" fill="#d3d3d3" stroke="#000" stroke-width="2.9"/>
<rect x="674.34" y="1646.9" width="30.5" height="270" fill="#d3d3d3" stroke="#000" stroke-width="2.9"/>
<rect x="734.49" y="1700.3" width="33.4" height="216.6" fill="#000"/>
<rect x="795.7" y="1809.21" width="33.4" height="107.69" fill="#000"/>
<rect x="857.31" y="1881.14" width="33.4" height="35.76" fill="#000"/>
<rect x="920.36" y="1896.11" width="30.5" height="20.79" fill="#d3d3d3" stroke="#000" stroke-width="2.9"/>
<rect x="981.57" y="1646.11" width="30.5" height="270.79" fill="#d3d3d3" stroke="#000" stroke-width="2.9"/>
<rect x="1041.73" y="1884.72" width="33.4" height="32.18" fill="#000"/>
<rect x="1102.93" y="1893.86" width="33.4" height="23.04" fill="#000"/>
<rect x="1164.54" y="1897.04" width="33.4" height="19.86" fill="#000"/>
<rect x="590.6" y="1589.8" width="628" height="327.1" fill="none" stroke="#000" stroke-width="3.9"/>
<line x1="582.92" y1="1916.9" x2="590.6" y2="1916.9" stroke="#000" stroke-width="3.9"/>
<text x="582.33" y="1926.19" font-size="24" font-weight="bold" text-anchor="end">0.0</text>
<line x1="582.92" y1="1862.38" x2="590.6" y2="1862.38" stroke="#000" stroke-width="3.9"/>
<text x="582.33" y="1871.68" font-size="24" font-weight="bold" text-anchor="end">0.2</text>
<line x1="582.92" y1="1807.87" x2="590.6" y2="1807.87" stroke="#000" stroke-width="3.9"/>
<text x="582.33" y="1817.16" font-size="24" font-weight="bold" text-anchor="end">0.4</text>
<line x1="582.92" y1="1753.35" x2="590.6" y2="1753.35" stroke="#000" stroke-width="3.9"/>
<text x="582.33" y="1762.64" font-size="24" font-weight="bold" text-anchor="end">0.6</text>
<line x1="582.92" y1="1698.83" x2="590.6" y2="1698.83" stroke="#000" stroke-width="3.9"/>
<text x="582.33" y="1708.13" font-size="24" font-weight="bold" text-anchor="end">0.8</text>
<line x1="582.92" y1="1644.32" x2="590.6" y2="1644.32" stroke="#000" stroke-width="3.9"/>
<text x="582.33" y="1653.61" font-size="24" font-weight="bold" text-anchor="end">1.0</text>
<line x1="582.92" y1="1589.8" x2="590.6" y2="1589.8" stroke="#000" stroke-width="3.9"/>
<text x="582.33" y="1599.09" font-size="24" font-weight="bold" text-anchor="end">1.2</text>
<line x1="627.98" y1="1916.9" x2="627.98" y2="1924.35" stroke="#000" stroke-width="3.9"/>
<line x1="627.98" y1="1875.18" x2="627.98" y2="1887.11" stroke="#111" stroke-width="1.3"/>
<line x1="619.3" y1="1875.18" x2="636.66" y2="1875.18" stroke="#111" stroke-width="1.3"/>
<line x1="619.3" y1="1887.11" x2="636.66" y2="1887.11" stroke="#111" stroke-width="1.3"/>
<circle cx="617.25" cy="1877.17" r="5.5" fill="#fff" stroke="#000" stroke-width="1.4"/>
<circle cx="627.98" cy="1879.16" r="5.5" fill="#fff" stroke="#000" stroke-width="1.4"/>
<circle cx="638.31" cy="1888.7" r="5.5" fill="#fff" stroke="#000" stroke-width="1.4"/>
<line x1="619.3" y1="1875.18" x2="636.66" y2="1875.18" stroke="#111" stroke-width="1.17"/>
<line x1="627.98" y1="1875.18" x2="627.98" y2="1887.11" stroke="#111" stroke-width="1.17"/>
<line x1="619.3" y1="1887.11" x2="636.66" y2="1887.11" stroke="#111" stroke-width="1.17"/>
<line x1="689.59" y1="1916.9" x2="689.59" y2="1924.35" stroke="#000" stroke-width="3.9"/>
<line x1="689.59" y1="1611.67" x2="689.59" y2="1678.04" stroke="#111" stroke-width="1.3"/>
<line x1="680.9" y1="1611.67" x2="698.27" y2="1611.67" stroke="#111" stroke-width="1.3"/>
<line x1="680.9" y1="1678.04" x2="698.27" y2="1678.04" stroke="#111" stroke-width="1.3"/>
<circle cx="689.59" cy="1611.67" r="5.5" fill="#fff" stroke="#000" stroke-width="1.4"/>
<circle cx="689.59" cy="1644.26" r="5.5" fill="#fff" stroke="#000" stroke-width="1.4"/>
<circle cx="689.59" cy="1678.04" r="5.5" fill="#fff" stroke="#000" stroke-width="1.4"/>
<line x1="680.9" y1="1611.67" x2="698.27" y2="1611.67" stroke="#111" stroke-width="1.17"/>
<line x1="689.59" y1="1611.67" x2="689.59" y2="1678.04" stroke="#111" stroke-width="1.17"/>
<line x1="680.9" y1="1678.04" x2="698.27" y2="1678.04" stroke="#111" stroke-width="1.17"/>
<line x1="751.19" y1="1916.9" x2="751.19" y2="1924.35" stroke="#000" stroke-width="3.9"/>
<line x1="751.19" y1="1682.42" x2="751.19" y2="1700.3" stroke="#111" stroke-width="1.3"/>
<line x1="742.51" y1="1682.42" x2="759.88" y2="1682.42" stroke="#111" stroke-width="1.3"/>
<circle cx="741.65" cy="1685.99" r="5.5" fill="#fff" stroke="#000" stroke-width="1.4"/>
<circle cx="759.54" cy="1695.14" r="5.5" fill="#fff" stroke="#000" stroke-width="1.4"/>
<circle cx="751.19" cy="1720.17" r="5.5" fill="#fff" stroke="#000" stroke-width="1.4"/>
<line x1="742.51" y1="1682.42" x2="759.88" y2="1682.42" stroke="#111" stroke-width="1.17"/>
<line x1="751.19" y1="1682.42" x2="751.19" y2="1700.3" stroke="#111" stroke-width="1.17"/>
<line x1="812.4" y1="1916.9" x2="812.4" y2="1924.35" stroke="#000" stroke-width="3.9"/>
<line x1="812.4" y1="1796.49" x2="812.4" y2="1809.21" stroke="#111" stroke-width="1.3"/>
<line x1="803.72" y1="1796.49" x2="821.08" y2="1796.49" stroke="#111" stroke-width="1.3"/>
<circle cx="812.4" cy="1796.49" r="5.5" fill="#fff" stroke="#000" stroke-width="1.4"/>
<circle cx="803.26" cy="1807.22" r="5.5" fill="#fff" stroke="#000" stroke-width="1.4"/>
<circle cx="821.14" cy="1822.32" r="5.5" fill="#fff" stroke="#000" stroke-width="1.4"/>
<line x1="803.72" y1="1796.49" x2="821.08" y2="1796.49" stroke="#111" stroke-width="1.17"/>
<line x1="812.4" y1="1796.49" x2="812.4" y2="1809.21" stroke="#111" stroke-width="1.17"/>
<line x1="874.01" y1="1916.9" x2="874.01" y2="1924.35" stroke="#000" stroke-width="3.9"/>
<line x1="874.01" y1="1875.18" x2="874.01" y2="1881.14" stroke="#111" stroke-width="1.3"/>
<line x1="865.32" y1="1875.18" x2="882.69" y2="1875.18" stroke="#111" stroke-width="1.3"/>
<circle cx="863.67" cy="1876.77" r="5.5" fill="#fff" stroke="#000" stroke-width="1.4"/>
<circle cx="874.01" cy="1878.76" r="5.5" fill="#fff" stroke="#000" stroke-width="1.4"/>
<circle cx="884.34" cy="1887.11" r="5.5" fill="#fff" stroke="#000" stroke-width="1.4"/>
<line x1="865.32" y1="1875.18" x2="882.69" y2="1875.18" stroke="#111" stroke-width="1.17"/>
<line x1="874.01" y1="1875.18" x2="874.01" y2="1881.14" stroke="#111" stroke-width="1.17"/>
<line x1="935.61" y1="1916.9" x2="935.61" y2="1924.35" stroke="#000" stroke-width="3.9"/>
<line x1="935.61" y1="1892.67" x2="935.61" y2="1896.65" stroke="#111" stroke-width="1.3"/>
<line x1="926.93" y1="1892.67" x2="944.3" y2="1892.67" stroke="#111" stroke-width="1.3"/>
<line x1="926.93" y1="1896.65" x2="944.3" y2="1896.65" stroke="#111" stroke-width="1.3"/>
<circle cx="924.48" cy="1893.86" r="5.5" fill="#fff" stroke="#000" stroke-width="1.4"/>
<circle cx="935.61" cy="1894.66" r="5.5" fill="#fff" stroke="#000" stroke-width="1.4"/>
<circle cx="945.95" cy="1895.06" r="5.5" fill="#fff" stroke="#000" stroke-width="1.4"/>
<line x1="926.93" y1="1892.67" x2="944.3" y2="1892.67" stroke="#111" stroke-width="1.17"/>
<line x1="935.61" y1="1892.67" x2="935.61" y2="1896.65" stroke="#111" stroke-width="1.17"/>
<line x1="926.93" y1="1896.65" x2="944.3" y2="1896.65" stroke="#111" stroke-width="1.17"/>
<line x1="996.82" y1="1916.9" x2="996.82" y2="1924.35" stroke="#000" stroke-width="3.9"/>
<line x1="996.82" y1="1641.48" x2="996.82" y2="1647.44" stroke="#111" stroke-width="1.3"/>
<line x1="988.14" y1="1641.48" x2="1005.5" y2="1641.48" stroke="#111" stroke-width="1.3"/>
<line x1="988.14" y1="1647.44" x2="1005.5" y2="1647.44" stroke="#111" stroke-width="1.3"/>
<circle cx="985.69" cy="1641.48" r="5.5" fill="#fff" stroke="#000" stroke-width="1.4"/>
<circle cx="996.82" cy="1644.66" r="5.5" fill="#fff" stroke="#000" stroke-width="1.4"/>
<circle cx="1007.55" cy="1648.24" r="5.5" fill="#fff" stroke="#000" stroke-width="1.4"/>
<line x1="988.14" y1="1641.48" x2="1005.5" y2="1641.48" stroke="#111" stroke-width="1.17"/>
<line x1="996.82" y1="1641.48" x2="996.82" y2="1647.44" stroke="#111" stroke-width="1.17"/>
<line x1="988.14" y1="1647.44" x2="1005.5" y2="1647.44" stroke="#111" stroke-width="1.17"/>
<line x1="1058.43" y1="1916.9" x2="1058.43" y2="1924.35" stroke="#000" stroke-width="3.9"/>
<line x1="1058.43" y1="1879.16" x2="1058.43" y2="1884.72" stroke="#111" stroke-width="1.3"/>
<line x1="1049.74" y1="1879.16" x2="1067.11" y2="1879.16" stroke="#111" stroke-width="1.3"/>
<circle cx="1047.69" cy="1878.76" r="5.5" fill="#fff" stroke="#000" stroke-width="1.4"/>
<circle cx="1058.43" cy="1885.91" r="5.5" fill="#fff" stroke="#000" stroke-width="1.4"/>
<circle cx="1069.16" cy="1887.9" r="5.5" fill="#fff" stroke="#000" stroke-width="1.4"/>
<line x1="1049.74" y1="1879.16" x2="1067.11" y2="1879.16" stroke="#111" stroke-width="1.17"/>
<line x1="1058.43" y1="1879.16" x2="1058.43" y2="1884.72" stroke="#111" stroke-width="1.17"/>
<line x1="1119.63" y1="1916.9" x2="1119.63" y2="1924.35" stroke="#000" stroke-width="3.9"/>
<line x1="1119.63" y1="1890.68" x2="1119.63" y2="1893.86" stroke="#111" stroke-width="1.3"/>
<line x1="1110.95" y1="1890.68" x2="1128.32" y2="1890.68" stroke="#111" stroke-width="1.3"/>
<circle cx="1109.3" cy="1891.88" r="5.5" fill="#fff" stroke="#000" stroke-width="1.4"/>
<circle cx="1119.63" cy="1893.07" r="5.5" fill="#fff" stroke="#000" stroke-width="1.4"/>
<circle cx="1129.97" cy="1894.66" r="5.5" fill="#fff" stroke="#000" stroke-width="1.4"/>
<line x1="1110.95" y1="1890.68" x2="1128.32" y2="1890.68" stroke="#111" stroke-width="1.17"/>
<line x1="1119.63" y1="1890.68" x2="1119.63" y2="1893.86" stroke="#111" stroke-width="1.17"/>
<line x1="1181.24" y1="1916.9" x2="1181.24" y2="1924.35" stroke="#000" stroke-width="3.9"/>
<line x1="1181.24" y1="1895.06" x2="1181.24" y2="1897.04" stroke="#111" stroke-width="1.3"/>
<line x1="1172.56" y1="1895.06" x2="1189.92" y2="1895.06" stroke="#111" stroke-width="1.3"/>
<circle cx="1170.91" cy="1895.06" r="5.5" fill="#fff" stroke="#000" stroke-width="1.4"/>
<circle cx="1181.24" cy="1897.04" r="5.5" fill="#fff" stroke="#000" stroke-width="1.4"/>
<circle cx="1191.57" cy="1898.63" r="5.5" fill="#fff" stroke="#000" stroke-width="1.4"/>
<line x1="1172.56" y1="1895.06" x2="1189.92" y2="1895.06" stroke="#111" stroke-width="1.17"/>
<line x1="1181.24" y1="1895.06" x2="1181.24" y2="1897.04" stroke="#111" stroke-width="1.17"/>
<text x="541" y="1753" font-size="30.8" text-anchor="middle" transform="rotate(-90 541 1753)">Norm. luminescence</text>
<text transform="translate(628.7 1956.1) scale(1.3 1)" font-size="27" text-anchor="middle">-</text>
<text transform="translate(936.3 1956.1) scale(1.3 1)" font-size="27" text-anchor="middle">-</text>
<text x="749" y="1957.9" font-size="26.4" text-anchor="middle">1</text>
<text x="811.5" y="1957.9" font-size="26.4" text-anchor="middle">3</text>
<text x="874.5" y="1957.9" font-size="26.4" text-anchor="middle">10</text>
<text x="1063.6" y="1957.9" font-size="26.4" text-anchor="middle">1</text>
<text x="1117.7" y="1957.9" font-size="26.4" text-anchor="middle">3</text>
<text x="1179.5" y="1957.9" font-size="26.4" text-anchor="middle">10</text>
<text x="682.82" y="1938.98" font-size="26.4" transform="rotate(90 682.82 1938.98)">+ PMA</text>
<text x="987.12" y="1938.98" font-size="26.4" transform="rotate(90 987.12 1938.98)">+ PMA</text>
<text x="1197.6" y="1957.9" font-size="26.4">μM</text>
<text x="812.2" y="1995.5" font-size="30.7" text-anchor="middle"><tspan font-weight="bold">34</tspan><tspan font-style="italic">S</tspan></text>
<text x="1116.1" y="1995.5" font-size="30.7" text-anchor="middle"><tspan font-weight="bold">35</tspan><tspan font-style="italic">S</tspan></text>
<line x1="1468.5" y1="1589.8" x2="1468.5" y2="1920.1" stroke="#999" stroke-width="0.7"/>
<line x1="1694.3" y1="1589.8" x2="1694.3" y2="1920.1" stroke="#999" stroke-width="0.7"/>
<rect x="1368.43" y="1910.42" width="29.3" height="9.68" fill="#d3d3d3" stroke="#000" stroke-width="2.9"/>
<rect x="1425.27" y="1647.7" width="29.3" height="272.4" fill="#d3d3d3" stroke="#000" stroke-width="2.9"/>
<rect x="1480.26" y="1644.66" width="32.2" height="275.44" fill="#000"/>
<rect x="1536.7" y="1744.02" width="32.2" height="176.08" fill="#000"/>
<rect x="1593.14" y="1792.51" width="32.2" height="127.59" fill="#000"/>
<rect x="1649.58" y="1901.02" width="32.2" height="19.08" fill="#000"/>
<rect x="1706.41" y="1746.8" width="32.2" height="173.3" fill="#000"/>
<rect x="1762.85" y="1791.72" width="32.2" height="128.38" fill="#000"/>
<rect x="1819.29" y="1895.85" width="32.2" height="24.25" fill="#000"/>
<rect x="1875.73" y="1908.97" width="32.2" height="11.13" fill="#000"/>
<rect x="1932.17" y="1912.94" width="32.2" height="7.16" fill="#000"/>
<rect x="1349.3" y="1589.8" width="633.9" height="330.3" fill="none" stroke="#000" stroke-width="4"/>
<line x1="1341.42" y1="1920.1" x2="1349.3" y2="1920.1" stroke="#000" stroke-width="4"/>
<text x="1340.82" y="1929.5" font-size="24.3" font-weight="bold" text-anchor="end">0.0</text>
<line x1="1341.42" y1="1865.05" x2="1349.3" y2="1865.05" stroke="#000" stroke-width="4"/>
<text x="1340.82" y="1874.45" font-size="24.3" font-weight="bold" text-anchor="end">0.2</text>
<line x1="1341.42" y1="1810" x2="1349.3" y2="1810" stroke="#000" stroke-width="4"/>
<text x="1340.82" y="1819.4" font-size="24.3" font-weight="bold" text-anchor="end">0.4</text>
<line x1="1341.42" y1="1754.95" x2="1349.3" y2="1754.95" stroke="#000" stroke-width="4"/>
<text x="1340.82" y="1764.35" font-size="24.3" font-weight="bold" text-anchor="end">0.6</text>
<line x1="1341.42" y1="1699.9" x2="1349.3" y2="1699.9" stroke="#000" stroke-width="4"/>
<text x="1340.82" y="1709.3" font-size="24.3" font-weight="bold" text-anchor="end">0.8</text>
<line x1="1341.42" y1="1644.85" x2="1349.3" y2="1644.85" stroke="#000" stroke-width="4"/>
<text x="1340.82" y="1654.25" font-size="24.3" font-weight="bold" text-anchor="end">1.0</text>
<line x1="1341.42" y1="1589.8" x2="1349.3" y2="1589.8" stroke="#000" stroke-width="4"/>
<text x="1340.82" y="1599.2" font-size="24.3" font-weight="bold" text-anchor="end">1.2</text>
<line x1="1383.08" y1="1920.1" x2="1383.08" y2="1927.74" stroke="#000" stroke-width="4"/>
<circle cx="1373.94" cy="1908.97" r="5.55" fill="#fff" stroke="#000" stroke-width="1.4"/>
<circle cx="1383.08" cy="1908.97" r="5.55" fill="#fff" stroke="#000" stroke-width="1.4"/>
<circle cx="1392.23" cy="1908.97" r="5.55" fill="#fff" stroke="#000" stroke-width="1.4"/>
<line x1="1439.92" y1="1920.1" x2="1439.92" y2="1927.74" stroke="#000" stroke-width="4"/>
<line x1="1439.92" y1="1633.53" x2="1439.92" y2="1658.17" stroke="#111" stroke-width="1.3"/>
<line x1="1431.55" y1="1633.53" x2="1448.29" y2="1633.53" stroke="#111" stroke-width="1.3"/>
<line x1="1431.55" y1="1658.17" x2="1448.29" y2="1658.17" stroke="#111" stroke-width="1.3"/>
<circle cx="1439.92" cy="1632.73" r="5.55" fill="#fff" stroke="#000" stroke-width="1.4"/>
<circle cx="1431.57" cy="1646.25" r="5.55" fill="#fff" stroke="#000" stroke-width="1.4"/>
<circle cx="1448.27" cy="1656.58" r="5.55" fill="#fff" stroke="#000" stroke-width="1.4"/>
<line x1="1431.55" y1="1633.53" x2="1448.29" y2="1633.53" stroke="#111" stroke-width="1.17"/>
<line x1="1439.92" y1="1633.53" x2="1439.92" y2="1658.17" stroke="#111" stroke-width="1.17"/>
<line x1="1431.55" y1="1658.17" x2="1448.29" y2="1658.17" stroke="#111" stroke-width="1.17"/>
<line x1="1496.36" y1="1920.1" x2="1496.36" y2="1927.74" stroke="#000" stroke-width="4"/>
<line x1="1496.36" y1="1622.4" x2="1496.36" y2="1644.66" stroke="#111" stroke-width="1.3"/>
<line x1="1487.99" y1="1622.4" x2="1504.73" y2="1622.4" stroke="#111" stroke-width="1.3"/>
<circle cx="1488.41" cy="1631.54" r="5.55" fill="#fff" stroke="#000" stroke-width="1.4"/>
<circle cx="1505.1" cy="1632.73" r="5.55" fill="#fff" stroke="#000" stroke-width="1.4"/>
<circle cx="1496.36" cy="1669.3" r="5.55" fill="#fff" stroke="#000" stroke-width="1.4"/>
<line x1="1487.99" y1="1622.4" x2="1504.73" y2="1622.4" stroke="#111" stroke-width="1.17"/>
<line x1="1496.36" y1="1622.4" x2="1496.36" y2="1644.66" stroke="#111" stroke-width="1.17"/>
<line x1="1552.8" y1="1920.1" x2="1552.8" y2="1927.74" stroke="#000" stroke-width="4"/>
<line x1="1552.8" y1="1732.1" x2="1552.8" y2="1744.02" stroke="#111" stroke-width="1.3"/>
<line x1="1544.43" y1="1732.1" x2="1561.17" y2="1732.1" stroke="#111" stroke-width="1.3"/>
<circle cx="1552.8" cy="1732.1" r="5.55" fill="#fff" stroke="#000" stroke-width="1.4"/>
<circle cx="1544.05" cy="1742.03" r="5.55" fill="#fff" stroke="#000" stroke-width="1.4"/>
<circle cx="1561.14" cy="1756.74" r="5.55" fill="#fff" stroke="#000" stroke-width="1.4"/>
<line x1="1544.43" y1="1732.1" x2="1561.17" y2="1732.1" stroke="#111" stroke-width="1.17"/>
<line x1="1552.8" y1="1732.1" x2="1552.8" y2="1744.02" stroke="#111" stroke-width="1.17"/>
<line x1="1609.24" y1="1920.1" x2="1609.24" y2="1927.74" stroke="#000" stroke-width="4"/>
<line x1="1609.24" y1="1767.87" x2="1609.24" y2="1792.51" stroke="#111" stroke-width="1.3"/>
<line x1="1600.86" y1="1767.87" x2="1617.61" y2="1767.87" stroke="#111" stroke-width="1.3"/>
<circle cx="1609.24" cy="1768.66" r="5.55" fill="#fff" stroke="#000" stroke-width="1.4"/>
<circle cx="1609.24" cy="1790.52" r="5.55" fill="#fff" stroke="#000" stroke-width="1.4"/>
<circle cx="1609.24" cy="1817.55" r="5.55" fill="#fff" stroke="#000" stroke-width="1.4"/>
<line x1="1600.86" y1="1767.87" x2="1617.61" y2="1767.87" stroke="#111" stroke-width="1.17"/>
<line x1="1609.24" y1="1767.87" x2="1609.24" y2="1792.51" stroke="#111" stroke-width="1.17"/>
<line x1="1665.68" y1="1920.1" x2="1665.68" y2="1927.74" stroke="#000" stroke-width="4"/>
<line x1="1665.68" y1="1897.84" x2="1665.68" y2="1901.02" stroke="#111" stroke-width="1.3"/>
<line x1="1657.3" y1="1897.84" x2="1674.05" y2="1897.84" stroke="#111" stroke-width="1.3"/>
<circle cx="1656.53" cy="1898.63" r="5.55" fill="#fff" stroke="#000" stroke-width="1.4"/>
<circle cx="1665.68" cy="1901.81" r="5.55" fill="#fff" stroke="#000" stroke-width="1.4"/>
<circle cx="1675.21" cy="1901.81" r="5.55" fill="#fff" stroke="#000" stroke-width="1.4"/>
<line x1="1657.3" y1="1897.84" x2="1674.05" y2="1897.84" stroke="#111" stroke-width="1.17"/>
<line x1="1665.68" y1="1897.84" x2="1665.68" y2="1901.02" stroke="#111" stroke-width="1.17"/>
<line x1="1722.51" y1="1920.1" x2="1722.51" y2="1927.74" stroke="#000" stroke-width="4"/>
<line x1="1722.51" y1="1730.11" x2="1722.51" y2="1746.8" stroke="#111" stroke-width="1.3"/>
<line x1="1714.14" y1="1730.11" x2="1730.88" y2="1730.11" stroke="#111" stroke-width="1.3"/>
<circle cx="1722.51" cy="1730.11" r="5.55" fill="#fff" stroke="#000" stroke-width="1.4"/>
<circle cx="1714.17" cy="1748" r="5.55" fill="#fff" stroke="#000" stroke-width="1.4"/>
<circle cx="1730.86" cy="1763.5" r="5.55" fill="#fff" stroke="#000" stroke-width="1.4"/>
<line x1="1714.14" y1="1730.11" x2="1730.88" y2="1730.11" stroke="#111" stroke-width="1.17"/>
<line x1="1722.51" y1="1730.11" x2="1722.51" y2="1746.8" stroke="#111" stroke-width="1.17"/>
<line x1="1778.95" y1="1920.1" x2="1778.95" y2="1927.74" stroke="#000" stroke-width="4"/>
<line x1="1778.95" y1="1788.54" x2="1778.95" y2="1791.72" stroke="#111" stroke-width="1.3"/>
<line x1="1770.58" y1="1788.54" x2="1787.32" y2="1788.54" stroke="#111" stroke-width="1.3"/>
<circle cx="1769.41" cy="1788.54" r="5.55" fill="#fff" stroke="#000" stroke-width="1.4"/>
<circle cx="1778.95" cy="1789.73" r="5.55" fill="#fff" stroke="#000" stroke-width="1.4"/>
<circle cx="1788.49" cy="1796.49" r="5.55" fill="#fff" stroke="#000" stroke-width="1.4"/>
<line x1="1770.58" y1="1788.54" x2="1787.32" y2="1788.54" stroke="#111" stroke-width="1.17"/>
<line x1="1778.95" y1="1788.54" x2="1778.95" y2="1791.72" stroke="#111" stroke-width="1.17"/>
<line x1="1835.39" y1="1920.1" x2="1835.39" y2="1927.74" stroke="#000" stroke-width="4"/>
<line x1="1835.39" y1="1889.09" x2="1835.39" y2="1895.85" stroke="#111" stroke-width="1.3"/>
<line x1="1827.02" y1="1889.09" x2="1843.76" y2="1889.09" stroke="#111" stroke-width="1.3"/>
<circle cx="1826.25" cy="1888.7" r="5.55" fill="#fff" stroke="#000" stroke-width="1.4"/>
<circle cx="1835.39" cy="1897.04" r="5.55" fill="#fff" stroke="#000" stroke-width="1.4"/>
<circle cx="1844.93" cy="1901.02" r="5.55" fill="#fff" stroke="#000" stroke-width="1.4"/>
<line x1="1827.02" y1="1889.09" x2="1843.76" y2="1889.09" stroke="#111" stroke-width="1.17"/>
<line x1="1835.39" y1="1889.09" x2="1835.39" y2="1895.85" stroke="#111" stroke-width="1.17"/>
<line x1="1891.83" y1="1920.1" x2="1891.83" y2="1927.74" stroke="#000" stroke-width="4"/>
<line x1="1891.83" y1="1906.98" x2="1891.83" y2="1908.97" stroke="#111" stroke-width="1.3"/>
<line x1="1883.46" y1="1906.98" x2="1900.2" y2="1906.98" stroke="#111" stroke-width="1.3"/>
<circle cx="1882.69" cy="1906.98" r="5.55" fill="#fff" stroke="#000" stroke-width="1.4"/>
<circle cx="1891.83" cy="1908.57" r="5.55" fill="#fff" stroke="#000" stroke-width="1.4"/>
<circle cx="1900.97" cy="1908.57" r="5.55" fill="#fff" stroke="#000" stroke-width="1.4"/>
<line x1="1883.46" y1="1906.98" x2="1900.2" y2="1906.98" stroke="#111" stroke-width="1.17"/>
<line x1="1891.83" y1="1906.98" x2="1891.83" y2="1908.97" stroke="#111" stroke-width="1.17"/>
<line x1="1948.27" y1="1920.1" x2="1948.27" y2="1927.74" stroke="#000" stroke-width="4"/>
<circle cx="1938.73" cy="1912.94" r="5.55" fill="#fff" stroke="#000" stroke-width="1.4"/>
<circle cx="1948.27" cy="1912.94" r="5.55" fill="#fff" stroke="#000" stroke-width="1.4"/>
<circle cx="1957.81" cy="1912.94" r="5.55" fill="#fff" stroke="#000" stroke-width="1.4"/>
<text x="1299" y="1753" font-size="30.8" text-anchor="middle" transform="rotate(-90 1299 1753)">Norm. luminescence</text>
<text transform="translate(1388 1955.99) scale(1.3 1)" font-size="27" text-anchor="middle">-</text>
<text x="1493.6" y="1957.5" font-size="26.6" text-anchor="middle">0.3</text>
<text x="1559.2" y="1957.5" font-size="26.6" text-anchor="middle">1</text>
<text x="1609.9" y="1957.5" font-size="26.6" text-anchor="middle">3</text>
<text x="1667.5" y="1957.5" font-size="26.6" text-anchor="middle">10</text>
<text x="1723" y="1957.5" font-size="26.6" text-anchor="middle">0.1</text>
<text x="1781.7" y="1957.5" font-size="26.6" text-anchor="middle">0.3</text>
<text x="1841.4" y="1957.5" font-size="26.6" text-anchor="middle">1</text>
<text x="1895.4" y="1957.5" font-size="26.6" text-anchor="middle">3</text>
<text x="1936" y="1957.5" font-size="26.6" text-anchor="middle">10</text>
<text x="1435.92" y="1940.38" font-size="26.4" transform="rotate(90 1435.92 1940.38)">+ PMA</text>
<text x="1963.8" y="1957.5" font-size="26.6">μM</text>
<text x="1582.1" y="1995.4" font-size="30.7" text-anchor="middle"><tspan font-weight="bold">28</tspan><tspan font-style="italic">S</tspan></text>
<text x="1842.8" y="1995.4" font-size="30.7" text-anchor="middle"><tspan font-weight="bold">35</tspan><tspan font-style="italic">S</tspan></text>
<line x1="793.44" y1="1642.44" x2="793.44" y2="1627.47" stroke="#000" stroke-width="1.35"/>
<line x1="790.54" y1="1642.44" x2="790.54" y2="1627.47" stroke="#000" stroke-width="1.35"/>
<line x1="791.99" y1="1642.44" x2="810.01" y2="1652.85" stroke="#000" stroke-width="1.35"/>
<line x1="810.01" y1="1652.85" x2="810.01" y2="1673.65" stroke="#000" stroke-width="1.35"/>
<line x1="807.11" y1="1655.55" x2="807.11" y2="1670.95" stroke="#000" stroke-width="1.35"/>
<line x1="810.01" y1="1673.65" x2="791.99" y2="1684.06" stroke="#000" stroke-width="1.35"/>
<line x1="791.99" y1="1684.06" x2="773.97" y2="1673.65" stroke="#000" stroke-width="1.35"/>
<line x1="773.97" y1="1673.65" x2="773.97" y2="1652.85" stroke="#000" stroke-width="1.35"/>
<line x1="773.97" y1="1652.85" x2="791.99" y2="1642.44" stroke="#000" stroke-width="1.35"/>
<line x1="810.01" y1="1652.85" x2="828.03" y2="1642.44" stroke="#000" stroke-width="1.35"/>
<line x1="829.48" y1="1642.44" x2="829.48" y2="1627.47" stroke="#000" stroke-width="1.35"/>
<line x1="826.58" y1="1642.44" x2="826.58" y2="1627.47" stroke="#000" stroke-width="1.35"/>
<line x1="828.03" y1="1642.44" x2="840.36" y2="1649.49" stroke="#000" stroke-width="1.35"/>
<line x1="851.04" y1="1649.51" x2="863.53" y2="1642.44" stroke="#000" stroke-width="1.35"/>
<line x1="863.53" y1="1642.44" x2="863.53" y2="1621.63" stroke="#000" stroke-width="1.35"/>
<line x1="863.53" y1="1642.44" x2="881.19" y2="1631.83" stroke="#000" stroke-width="1.35"/>
<line x1="863.53" y1="1642.44" x2="881.19" y2="1653.05" stroke="#000" stroke-width="1.35"/>
<line x1="808.29" y1="1695.41" x2="808.36" y2="1709.03" stroke="#000" stroke-width="1.35"/>
<line x1="811.19" y1="1695.39" x2="811.26" y2="1709.02" stroke="#000" stroke-width="1.35"/>
<line x1="809.74" y1="1695.4" x2="822.23" y2="1687.86" stroke="#000" stroke-width="1.35"/>
<line x1="832.77" y1="1687.82" x2="845.51" y2="1695.4" stroke="#000" stroke-width="1.35"/>
<polygon points="791.99,1684.06 808.49,1697.35 810.99,1693.44" fill="#000"/>
<line x1="789.32" y1="1685.38" x2="789.7" y2="1685.97" stroke="#000" stroke-width="1.15"/>
<line x1="786.64" y1="1686.71" x2="787.41" y2="1687.89" stroke="#000" stroke-width="1.15"/>
<line x1="783.96" y1="1688.03" x2="785.12" y2="1689.8" stroke="#000" stroke-width="1.15"/>
<line x1="781.29" y1="1689.36" x2="782.83" y2="1691.72" stroke="#000" stroke-width="1.15"/>
<line x1="778.61" y1="1690.68" x2="780.54" y2="1693.63" stroke="#000" stroke-width="1.15"/>
<line x1="775.93" y1="1692.01" x2="778.24" y2="1695.55" stroke="#000" stroke-width="1.15"/>
<line x1="773.26" y1="1693.33" x2="775.95" y2="1697.46" stroke="#000" stroke-width="1.15"/>
<line x1="845.51" y1="1695.4" x2="864.64" y2="1684.3" stroke="#000" stroke-width="1.35"/>
<line x1="864.64" y1="1684.3" x2="883.17" y2="1673.71" stroke="#000" stroke-width="1.35"/>
<line x1="867.19" y1="1686.18" x2="884.27" y2="1676.42" stroke="#000" stroke-width="1.35"/>
<line x1="864.32" y1="1681.15" x2="881.39" y2="1671.39" stroke="#000" stroke-width="1.35"/>
<line x1="883.17" y1="1673.71" x2="901.21" y2="1663.37" stroke="#000" stroke-width="1.35"/>
<line x1="901.21" y1="1663.37" x2="901.21" y2="1642.92" stroke="#000" stroke-width="1.35"/>
<line x1="901.21" y1="1642.92" x2="918.77" y2="1632.82" stroke="#000" stroke-width="1.35"/>
<line x1="904.94" y1="1644.12" x2="917.93" y2="1636.65" stroke="#000" stroke-width="1.35"/>
<line x1="918.77" y1="1632.82" x2="936.81" y2="1642.92" stroke="#000" stroke-width="1.35"/>
<line x1="936.81" y1="1642.92" x2="936.81" y2="1663.37" stroke="#000" stroke-width="1.35"/>
<line x1="933.91" y1="1645.58" x2="933.91" y2="1660.71" stroke="#000" stroke-width="1.35"/>
<line x1="936.81" y1="1663.37" x2="918.77" y2="1673.71" stroke="#000" stroke-width="1.35"/>
<line x1="918.77" y1="1673.71" x2="901.21" y2="1663.37" stroke="#000" stroke-width="1.35"/>
<line x1="917.96" y1="1669.87" x2="904.96" y2="1662.22" stroke="#000" stroke-width="1.35"/>
<line x1="936.81" y1="1642.92" x2="949.49" y2="1635.82" stroke="#000" stroke-width="1.35"/>
<line x1="954.85" y1="1626.68" x2="954.85" y2="1612.13" stroke="#000" stroke-width="1.35"/>
<line x1="960.21" y1="1635.82" x2="972.89" y2="1642.92" stroke="#000" stroke-width="1.35"/>
<text x="791.99" y="1625.93" font-size="12.8" text-anchor="middle" stroke="#000" stroke-width="0.28">O</text>
<text x="828.03" y="1625.93" font-size="12.8" text-anchor="middle" stroke="#000" stroke-width="0.28">O</text>
<text x="845.69" y="1657.14" font-size="12.8" text-anchor="middle" stroke="#000" stroke-width="0.28">O</text>
<text x="809.83" y="1719.77" font-size="12.8" text-anchor="middle" stroke="#000" stroke-width="0.28">O</text>
<text x="827.49" y="1689.29" font-size="12.8" text-anchor="middle" stroke="#000" stroke-width="0.28">O</text>
<text x="954.85" y="1637.43" font-size="12.8" text-anchor="middle" stroke="#000" stroke-width="0.28">N</text>
<line x1="1061.67" y1="1637.15" x2="1061.67" y2="1622.17" stroke="#000" stroke-width="1.35"/>
<line x1="1058.77" y1="1637.15" x2="1058.77" y2="1622.17" stroke="#000" stroke-width="1.35"/>
<line x1="1060.22" y1="1637.15" x2="1078.24" y2="1647.55" stroke="#000" stroke-width="1.35"/>
<line x1="1078.24" y1="1647.55" x2="1078.24" y2="1668.36" stroke="#000" stroke-width="1.35"/>
<line x1="1075.34" y1="1650.26" x2="1075.34" y2="1665.66" stroke="#000" stroke-width="1.35"/>
<line x1="1078.24" y1="1668.36" x2="1060.22" y2="1678.77" stroke="#000" stroke-width="1.35"/>
<line x1="1060.22" y1="1678.77" x2="1042.2" y2="1668.36" stroke="#000" stroke-width="1.35"/>
<line x1="1042.2" y1="1668.36" x2="1042.2" y2="1647.55" stroke="#000" stroke-width="1.35"/>
<line x1="1042.2" y1="1647.55" x2="1060.22" y2="1637.15" stroke="#000" stroke-width="1.35"/>
<line x1="1078.24" y1="1647.55" x2="1096.26" y2="1637.15" stroke="#000" stroke-width="1.35"/>
<line x1="1097.71" y1="1637.15" x2="1097.71" y2="1622.17" stroke="#000" stroke-width="1.35"/>
<line x1="1094.81" y1="1637.15" x2="1094.81" y2="1622.17" stroke="#000" stroke-width="1.35"/>
<line x1="1096.26" y1="1637.15" x2="1108.58" y2="1644.19" stroke="#000" stroke-width="1.35"/>
<line x1="1119.26" y1="1644.22" x2="1131.76" y2="1637.15" stroke="#000" stroke-width="1.35"/>
<line x1="1131.76" y1="1637.15" x2="1131.76" y2="1616.34" stroke="#000" stroke-width="1.35"/>
<line x1="1131.76" y1="1637.15" x2="1149.42" y2="1626.54" stroke="#000" stroke-width="1.35"/>
<line x1="1131.76" y1="1637.15" x2="1149.42" y2="1647.76" stroke="#000" stroke-width="1.35"/>
<line x1="1076.52" y1="1690.11" x2="1076.58" y2="1703.74" stroke="#000" stroke-width="1.35"/>
<line x1="1079.42" y1="1690.1" x2="1079.48" y2="1703.72" stroke="#000" stroke-width="1.35"/>
<line x1="1077.97" y1="1690.11" x2="1090.46" y2="1682.57" stroke="#000" stroke-width="1.35"/>
<line x1="1101" y1="1682.53" x2="1113.74" y2="1690.11" stroke="#000" stroke-width="1.35"/>
<polygon points="1060.22,1678.77 1076.72,1692.06 1079.22,1688.15" fill="#000"/>
<line x1="1057.54" y1="1680.09" x2="1057.92" y2="1680.68" stroke="#000" stroke-width="1.15"/>
<line x1="1054.86" y1="1681.42" x2="1055.63" y2="1682.6" stroke="#000" stroke-width="1.15"/>
<line x1="1052.19" y1="1682.74" x2="1053.34" y2="1684.51" stroke="#000" stroke-width="1.15"/>
<line x1="1049.51" y1="1684.07" x2="1051.05" y2="1686.43" stroke="#000" stroke-width="1.15"/>
<line x1="1046.83" y1="1685.39" x2="1048.76" y2="1688.34" stroke="#000" stroke-width="1.15"/>
<line x1="1044.16" y1="1686.72" x2="1046.47" y2="1690.26" stroke="#000" stroke-width="1.15"/>
<line x1="1041.48" y1="1688.04" x2="1044.17" y2="1692.17" stroke="#000" stroke-width="1.15"/>
<line x1="1113.74" y1="1690.11" x2="1132.87" y2="1679.01" stroke="#000" stroke-width="1.35"/>
<line x1="1132.87" y1="1679.01" x2="1151.39" y2="1668.42" stroke="#000" stroke-width="1.35"/>
<line x1="1135.42" y1="1680.89" x2="1152.49" y2="1671.13" stroke="#000" stroke-width="1.35"/>
<line x1="1132.54" y1="1675.85" x2="1149.62" y2="1666.09" stroke="#000" stroke-width="1.35"/>
<line x1="1151.39" y1="1668.42" x2="1167.75" y2="1658.08" stroke="#000" stroke-width="1.35"/>
<line x1="1167.75" y1="1658.08" x2="1167.75" y2="1637.63" stroke="#000" stroke-width="1.35"/>
<line x1="1167.75" y1="1637.63" x2="1185.79" y2="1627.29" stroke="#000" stroke-width="1.35"/>
<line x1="1171.53" y1="1638.8" x2="1184.88" y2="1631.15" stroke="#000" stroke-width="1.35"/>
<line x1="1185.79" y1="1627.29" x2="1198.5" y2="1634.57" stroke="#000" stroke-width="1.35"/>
<line x1="1203.83" y1="1643.77" x2="1203.83" y2="1658.08" stroke="#000" stroke-width="1.35"/>
<line x1="1200.93" y1="1643.77" x2="1200.93" y2="1655.42" stroke="#000" stroke-width="1.35"/>
<line x1="1203.83" y1="1658.08" x2="1185.79" y2="1668.18" stroke="#000" stroke-width="1.35"/>
<line x1="1185.79" y1="1668.18" x2="1167.75" y2="1658.08" stroke="#000" stroke-width="1.35"/>
<line x1="1184.86" y1="1664.34" x2="1171.51" y2="1656.86" stroke="#000" stroke-width="1.35"/>
<text x="1060.22" y="1620.64" font-size="12.8" text-anchor="middle" stroke="#000" stroke-width="0.28">O</text>
<text x="1096.26" y="1620.64" font-size="12.8" text-anchor="middle" stroke="#000" stroke-width="0.28">O</text>
<text x="1113.92" y="1651.85" font-size="12.8" text-anchor="middle" stroke="#000" stroke-width="0.28">O</text>
<text x="1078.06" y="1714.48" font-size="12.8" text-anchor="middle" stroke="#000" stroke-width="0.28">O</text>
<text x="1095.72" y="1684" font-size="12.8" text-anchor="middle" stroke="#000" stroke-width="0.28">O</text>
<text x="1203.83" y="1642.24" font-size="12.8" text-anchor="middle" stroke="#000" stroke-width="0.28">N</text>
</svg>
</body></html>
